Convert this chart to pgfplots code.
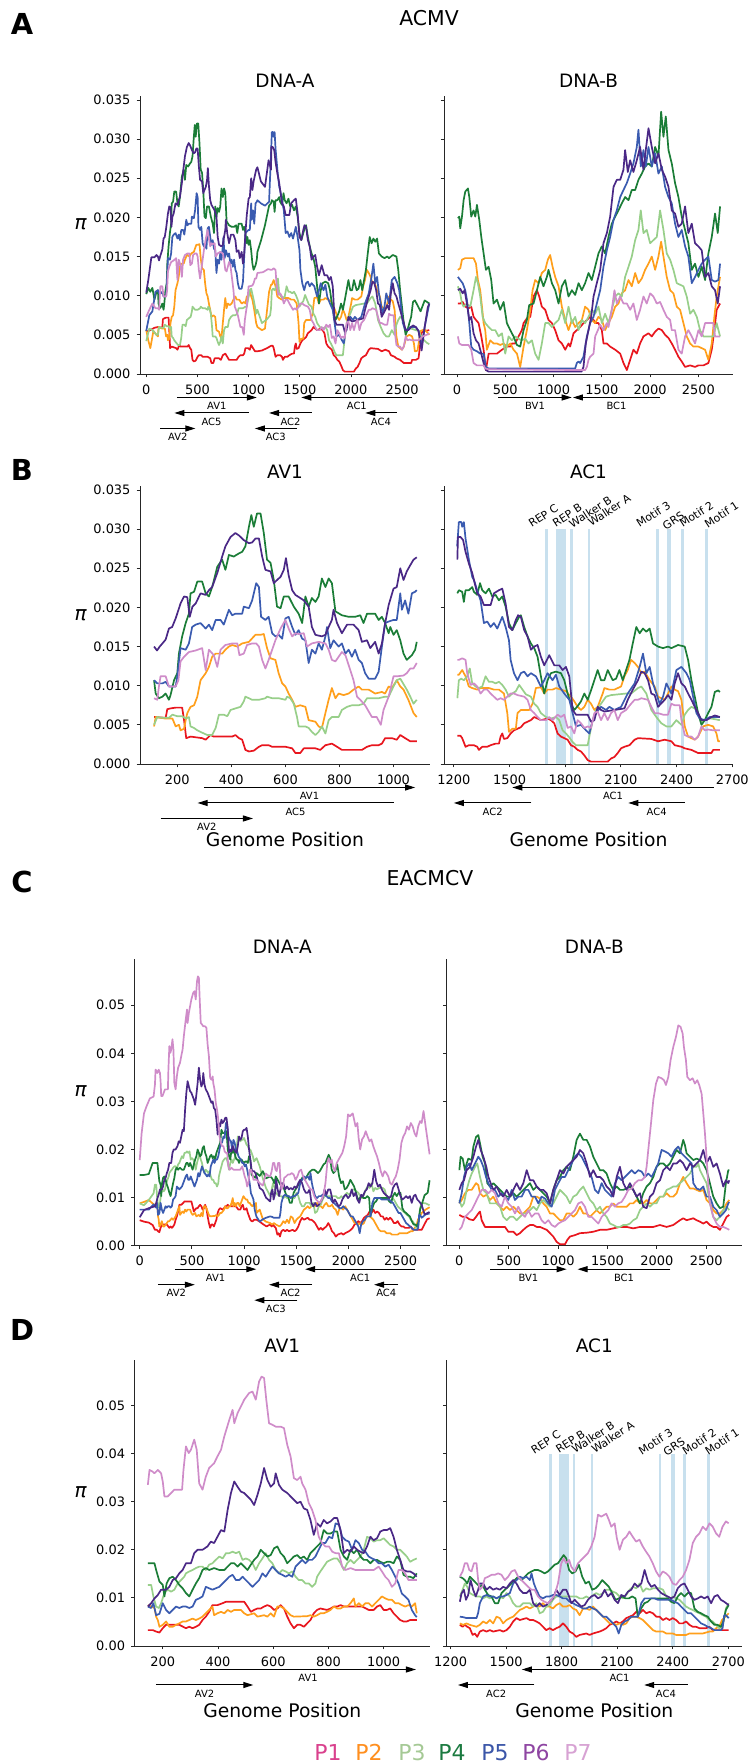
\documentclass[border=0pt]{standalone}
\usepackage{fontspec}
\setmainfont{DejaVu Sans}
\usepackage{pgfplots}
\pgfplotsset{compat=1.18}
\usepackage{pgfplotstable}
\usetikzlibrary{arrows.meta}

\definecolor{cPa}{HTML}{E8161E}
\definecolor{cPb}{HTML}{FF9F1C}
\definecolor{cPc}{HTML}{98CF8A}
\definecolor{cPd}{HTML}{1B7D37}
\definecolor{cPe}{HTML}{3A5BB0}
\definecolor{cPf}{HTML}{4A2886}
\definecolor{cPg}{HTML}{CF8CC9}
\definecolor{lPa}{HTML}{D9418D}
\definecolor{lPb}{HTML}{FF8F1F}
\definecolor{lPc}{HTML}{A5C995}
\definecolor{lPd}{HTML}{1B7A40}
\definecolor{lPe}{HTML}{3B56A8}
\definecolor{lPf}{HTML}{8E45A2}
\definecolor{lPg}{HTML}{D7A2D3}
\definecolor{motifc}{HTML}{C8E0EE}

\newcommand\tickfont{\fontsize{13}{15}\selectfont}
\newcommand\titlefont{\fontsize{18.5}{21}\selectfont}
\newcommand\bigtitlefont{\fontsize{20.5}{23}\selectfont}
\newcommand\letterfont{\bfseries\fontsize{29}{31}\selectfont}
\newcommand\xlabfont{\fontsize{18.8}{21}\selectfont}
\newcommand\genefont{\fontsize{10}{11}\selectfont}
\newcommand\motiffont{\fontsize{11}{12}\selectfont}
\newcommand\legfont{\fontsize{22}{24}\selectfont}
\newcommand\pifont{\itshape\fontsize{20}{22}\selectfont}

% ---------------- ACMV DNA-A ----------------
\pgfplotstableread[row sep=\\]{x y\\ 0 0.0054\\ 40 0.0056\\ 80 0.0059\\ 114 0.0060\\ 157 0.0059\\ 163 0.0070\\ 175 0.0071\\ 194 0.0072\\ 218 0.0072\\ 225 0.0056\\ 233 0.0033\\ 249 0.0035\\ 292 0.0033\\ 305 0.0031\\ 323 0.0037\\ 335 0.0035\\ 403 0.0035\\ 415 0.0037\\ 428 0.0033\\ 440 0.0031\\ 452 0.0018\\ 465 0.0016\\ 483 0.0017\\ 502 0.0022\\ 514 0.0024\\ 538 0.0024\\ 551 0.0022\\ 600 0.0022\\ 625 0.0020\\ 637 0.0014\\ 655 0.0014\\ 668 0.0020\\ 711 0.0020\\ 729 0.0018\\ 748 0.0024\\ 772 0.0026\\ 791 0.0022\\ 809 0.0018\\ 883 0.0018\\ 902 0.0022\\ 920 0.0024\\ 945 0.0024\\ 957 0.0026\\ 969 0.0033\\ 994 0.0033\\ 1012 0.0031\\ 1025 0.0037\\ 1043 0.0033\\ 1062 0.0029\\ 1086 0.0029\\ 1130 0.0030\\ 1180 0.0033\\ 1219 0.0036\\ 1236 0.0036\\ 1245 0.0033\\ 1263 0.0022\\ 1281 0.0024\\ 1308 0.0024\\ 1326 0.0022\\ 1335 0.0018\\ 1353 0.0022\\ 1380 0.0022\\ 1398 0.0024\\ 1425 0.0026\\ 1443 0.0026\\ 1452 0.0035\\ 1461 0.0039\\ 1470 0.0032\\ 1488 0.0033\\ 1506 0.0039\\ 1524 0.0043\\ 1543 0.0045\\ 1561 0.0047\\ 1579 0.0052\\ 1597 0.0054\\ 1615 0.0056\\ 1633 0.0060\\ 1651 0.0058\\ 1669 0.0056\\ 1705 0.0058\\ 1723 0.0056\\ 1741 0.0052\\ 1759 0.0039\\ 1777 0.0035\\ 1795 0.0033\\ 1813 0.0031\\ 1831 0.0024\\ 1849 0.0022\\ 1867 0.0018\\ 1885 0.0016\\ 1903 0.0011\\ 1921 0.0005\\ 1939 0.0003\\ 2029 0.0003\\ 2047 0.0007\\ 2065 0.0009\\ 2083 0.0014\\ 2101 0.0020\\ 2119 0.0022\\ 2146 0.0024\\ 2174 0.0031\\ 2192 0.0033\\ 2264 0.0032\\ 2300 0.0029\\ 2336 0.0031\\ 2372 0.0029\\ 2390 0.0024\\ 2426 0.0022\\ 2444 0.0020\\ 2480 0.0018\\ 2516 0.0014\\ 2588 0.0014\\ 2597 0.0018\\ 2633 0.0018\\ 2660 0.0020\\ 2690 0.0053\\ 2720 0.0055\\ 2765 0.0056\\}\AAa
\pgfplotstableread[row sep=\\]{x y\\ 0 0.0056\\ 20 0.0043\\ 40 0.0033\\ 70 0.0055\\ 100 0.0050\\ 114 0.0048\\ 120 0.0060\\ 138 0.0059\\ 157 0.0058\\ 182 0.0058\\ 194 0.0048\\ 206 0.0050\\ 212 0.0043\\ 225 0.0045\\ 231 0.0056\\ 237 0.0065\\ 249 0.0073\\ 262 0.0075\\ 274 0.0086\\ 286 0.0107\\ 305 0.0116\\ 317 0.0124\\ 329 0.0137\\ 342 0.0141\\ 366 0.0141\\ 378 0.0146\\ 391 0.0150\\ 403 0.0152\\ 422 0.0150\\ 440 0.0154\\ 465 0.0156\\ 489 0.0165\\ 508 0.0165\\ 520 0.0166\\ 532 0.0148\\ 545 0.0135\\ 563 0.0133\\ 575 0.0116\\ 588 0.0103\\ 600 0.0099\\ 612 0.0090\\ 625 0.0082\\ 637 0.0073\\ 655 0.0075\\ 674 0.0073\\ 686 0.0056\\ 711 0.0054\\ 723 0.0048\\ 735 0.0046\\ 748 0.0065\\ 760 0.0082\\ 772 0.0097\\ 785 0.0084\\ 797 0.0090\\ 815 0.0088\\ 834 0.0090\\ 852 0.0095\\ 871 0.0099\\ 883 0.0095\\ 908 0.0095\\ 932 0.0090\\ 957 0.0092\\ 969 0.0090\\ 982 0.0099\\ 994 0.0097\\ 1012 0.0107\\ 1025 0.0099\\ 1037 0.0095\\ 1055 0.0082\\ 1074 0.0065\\ 1086 0.0060\\ 1130 0.0056\\ 1160 0.0058\\ 1200 0.0105\\ 1219 0.0114\\ 1227 0.0114\\ 1245 0.0120\\ 1263 0.0112\\ 1281 0.0099\\ 1299 0.0097\\ 1326 0.0095\\ 1344 0.0097\\ 1362 0.0097\\ 1389 0.0097\\ 1416 0.0095\\ 1443 0.0095\\ 1470 0.0090\\ 1488 0.0065\\ 1497 0.0041\\ 1515 0.0045\\ 1534 0.0045\\ 1543 0.0065\\ 1561 0.0069\\ 1588 0.0069\\ 1606 0.0069\\ 1624 0.0077\\ 1642 0.0097\\ 1669 0.0098\\ 1687 0.0090\\ 1705 0.0095\\ 1732 0.0095\\ 1750 0.0097\\ 1777 0.0095\\ 1804 0.0093\\ 1831 0.0086\\ 1849 0.0080\\ 1867 0.0073\\ 1885 0.0069\\ 1903 0.0073\\ 1921 0.0082\\ 1939 0.0077\\ 1957 0.0069\\ 1975 0.0073\\ 2002 0.0090\\ 2011 0.0097\\ 2038 0.0095\\ 2065 0.0095\\ 2083 0.0097\\ 2101 0.0099\\ 2119 0.0112\\ 2137 0.0120\\ 2155 0.0133\\ 2174 0.0129\\ 2192 0.0124\\ 2210 0.0116\\ 2228 0.0118\\ 2255 0.0107\\ 2282 0.0099\\ 2300 0.0086\\ 2318 0.0084\\ 2336 0.0082\\ 2354 0.0090\\ 2372 0.0099\\ 2390 0.0095\\ 2408 0.0093\\ 2426 0.0082\\ 2444 0.0048\\ 2462 0.0035\\ 2480 0.0033\\ 2498 0.0031\\ 2516 0.0035\\ 2543 0.0048\\ 2570 0.0050\\ 2597 0.0048\\ 2615 0.0039\\ 2624 0.0029\\ 2633 0.0029\\ 2650 0.0030\\ 2680 0.0055\\ 2720 0.0057\\ 2765 0.0050\\}\AAb
\pgfplotstableread[row sep=\\]{x y\\ 0 0.0042\\ 30 0.0058\\ 60 0.0056\\ 100 0.0050\\ 114 0.0050\\ 126 0.0060\\ 145 0.0059\\ 169 0.0059\\ 182 0.0063\\ 200 0.0061\\ 218 0.0061\\ 231 0.0058\\ 243 0.0060\\ 249 0.0048\\ 262 0.0046\\ 274 0.0043\\ 292 0.0040\\ 311 0.0037\\ 329 0.0037\\ 342 0.0046\\ 354 0.0063\\ 372 0.0063\\ 385 0.0061\\ 397 0.0069\\ 415 0.0071\\ 434 0.0073\\ 446 0.0080\\ 452 0.0086\\ 465 0.0084\\ 477 0.0082\\ 502 0.0082\\ 526 0.0084\\ 532 0.0086\\ 551 0.0084\\ 575 0.0084\\ 600 0.0082\\ 606 0.0086\\ 618 0.0084\\ 631 0.0077\\ 643 0.0060\\ 649 0.0048\\ 674 0.0048\\ 686 0.0046\\ 698 0.0041\\ 711 0.0037\\ 723 0.0041\\ 735 0.0048\\ 748 0.0039\\ 760 0.0056\\ 772 0.0060\\ 797 0.0060\\ 809 0.0069\\ 828 0.0073\\ 846 0.0075\\ 871 0.0075\\ 889 0.0077\\ 902 0.0084\\ 945 0.0084\\ 969 0.0086\\ 982 0.0086\\ 1000 0.0099\\ 1012 0.0107\\ 1025 0.0109\\ 1037 0.0102\\ 1049 0.0095\\ 1062 0.0086\\ 1074 0.0077\\ 1086 0.0082\\ 1130 0.0065\\ 1180 0.0070\\ 1210 0.0075\\ 1219 0.0084\\ 1227 0.0107\\ 1240 0.0109\\ 1254 0.0107\\ 1272 0.0112\\ 1286 0.0122\\ 1299 0.0103\\ 1317 0.0099\\ 1335 0.0097\\ 1353 0.0099\\ 1371 0.0112\\ 1389 0.0105\\ 1407 0.0105\\ 1425 0.0103\\ 1443 0.0105\\ 1461 0.0101\\ 1479 0.0095\\ 1497 0.0086\\ 1515 0.0090\\ 1534 0.0093\\ 1552 0.0101\\ 1570 0.0095\\ 1588 0.0089\\ 1615 0.0086\\ 1633 0.0077\\ 1651 0.0073\\ 1669 0.0065\\ 1696 0.0060\\ 1723 0.0058\\ 1750 0.0060\\ 1768 0.0056\\ 1786 0.0043\\ 1804 0.0039\\ 1822 0.0034\\ 1840 0.0028\\ 1858 0.0024\\ 1921 0.0024\\ 1930 0.0035\\ 1948 0.0056\\ 1966 0.0069\\ 1993 0.0077\\ 2020 0.0086\\ 2047 0.0088\\ 2128 0.0090\\ 2155 0.0090\\ 2192 0.0097\\ 2210 0.0099\\ 2237 0.0090\\ 2264 0.0069\\ 2291 0.0060\\ 2318 0.0052\\ 2345 0.0048\\ 2372 0.0048\\ 2399 0.0056\\ 2426 0.0050\\ 2444 0.0063\\ 2462 0.0069\\ 2480 0.0073\\ 2498 0.0071\\ 2516 0.0065\\ 2534 0.0054\\ 2561 0.0058\\ 2588 0.0058\\ 2633 0.0056\\ 2660 0.0055\\ 2700 0.0045\\ 2740 0.0040\\ 2765 0.0038\\}\AAc
\pgfplotstableread[row sep=\\]{x y\\ 0 0.0102\\ 20 0.0110\\ 40 0.0105\\ 60 0.0110\\ 80 0.0095\\ 100 0.0105\\ 114 0.0107\\ 120 0.0090\\ 132 0.0084\\ 145 0.0086\\ 157 0.0090\\ 169 0.0082\\ 175 0.0088\\ 188 0.0107\\ 200 0.0116\\ 206 0.0141\\ 218 0.0163\\ 231 0.0180\\ 243 0.0192\\ 249 0.0218\\ 262 0.0220\\ 274 0.0233\\ 292 0.0233\\ 305 0.0218\\ 317 0.0214\\ 329 0.0226\\ 348 0.0252\\ 366 0.0261\\ 378 0.0248\\ 391 0.0267\\ 409 0.0265\\ 428 0.0269\\ 440 0.0271\\ 452 0.0278\\ 465 0.0303\\ 474 0.0318\\ 483 0.0303\\ 495 0.0320\\ 508 0.0320\\ 520 0.0295\\ 532 0.0261\\ 545 0.0257\\ 557 0.0235\\ 569 0.0201\\ 582 0.0199\\ 594 0.0214\\ 612 0.0214\\ 631 0.0201\\ 649 0.0192\\ 662 0.0180\\ 674 0.0214\\ 686 0.0201\\ 698 0.0212\\ 711 0.0207\\ 723 0.0214\\ 735 0.0237\\ 748 0.0226\\ 760 0.0237\\ 772 0.0231\\ 785 0.0195\\ 809 0.0190\\ 834 0.0188\\ 858 0.0188\\ 877 0.0190\\ 889 0.0180\\ 902 0.0192\\ 932 0.0192\\ 945 0.0184\\ 957 0.0188\\ 969 0.0180\\ 982 0.0167\\ 988 0.0175\\ 1000 0.0165\\ 1012 0.0171\\ 1025 0.0158\\ 1037 0.0141\\ 1049 0.0133\\ 1068 0.0139\\ 1080 0.0146\\ 1086 0.0156\\ 1120 0.0170\\ 1160 0.0190\\ 1200 0.0215\\ 1219 0.0218\\ 1227 0.0222\\ 1245 0.0220\\ 1254 0.0207\\ 1263 0.0222\\ 1281 0.0222\\ 1299 0.0226\\ 1308 0.0220\\ 1326 0.0216\\ 1341 0.0231\\ 1353 0.0222\\ 1371 0.0218\\ 1389 0.0224\\ 1407 0.0214\\ 1425 0.0216\\ 1443 0.0209\\ 1461 0.0214\\ 1479 0.0201\\ 1497 0.0180\\ 1515 0.0171\\ 1534 0.0180\\ 1552 0.0188\\ 1561 0.0190\\ 1579 0.0175\\ 1597 0.0163\\ 1615 0.0154\\ 1633 0.0148\\ 1651 0.0137\\ 1669 0.0112\\ 1687 0.0090\\ 1705 0.0107\\ 1723 0.0116\\ 1750 0.0118\\ 1777 0.0116\\ 1795 0.0107\\ 1813 0.0090\\ 1831 0.0077\\ 1849 0.0069\\ 1867 0.0074\\ 1885 0.0080\\ 1903 0.0090\\ 1921 0.0082\\ 1939 0.0094\\ 1957 0.0107\\ 1975 0.0120\\ 1993 0.0107\\ 2011 0.0107\\ 2029 0.0120\\ 2056 0.0107\\ 2074 0.0109\\ 2092 0.0120\\ 2110 0.0107\\ 2128 0.0120\\ 2146 0.0133\\ 2164 0.0154\\ 2183 0.0175\\ 2201 0.0167\\ 2219 0.0173\\ 2237 0.0169\\ 2255 0.0173\\ 2273 0.0154\\ 2300 0.0150\\ 2327 0.0148\\ 2354 0.0150\\ 2372 0.0148\\ 2390 0.0150\\ 2408 0.0152\\ 2444 0.0150\\ 2462 0.0133\\ 2480 0.0107\\ 2498 0.0086\\ 2516 0.0065\\ 2534 0.0050\\ 2552 0.0056\\ 2570 0.0065\\ 2588 0.0073\\ 2606 0.0092\\ 2624 0.0094\\ 2633 0.0092\\ 2680 0.0080\\ 2720 0.0094\\ 2765 0.0090\\}\AAd
\pgfplotstableread[row sep=\\]{x y\\ 0 0.0055\\ 30 0.0075\\ 60 0.0080\\ 90 0.0105\\ 114 0.0107\\ 126 0.0103\\ 145 0.0103\\ 157 0.0105\\ 169 0.0099\\ 194 0.0099\\ 200 0.0112\\ 212 0.0148\\ 231 0.0146\\ 243 0.0154\\ 255 0.0175\\ 268 0.0178\\ 286 0.0180\\ 305 0.0173\\ 317 0.0178\\ 329 0.0171\\ 342 0.0184\\ 360 0.0184\\ 372 0.0178\\ 391 0.0197\\ 403 0.0190\\ 415 0.0192\\ 440 0.0192\\ 446 0.0201\\ 465 0.0199\\ 477 0.0209\\ 492 0.0231\\ 502 0.0226\\ 510 0.0188\\ 526 0.0184\\ 538 0.0188\\ 551 0.0167\\ 563 0.0163\\ 575 0.0165\\ 588 0.0160\\ 600 0.0186\\ 612 0.0188\\ 625 0.0175\\ 637 0.0165\\ 649 0.0171\\ 662 0.0160\\ 674 0.0158\\ 686 0.0129\\ 698 0.0146\\ 711 0.0141\\ 723 0.0154\\ 735 0.0146\\ 748 0.0163\\ 754 0.0175\\ 766 0.0148\\ 778 0.0158\\ 797 0.0150\\ 809 0.0154\\ 822 0.0141\\ 834 0.0146\\ 846 0.0137\\ 858 0.0146\\ 871 0.0133\\ 883 0.0129\\ 895 0.0116\\ 908 0.0109\\ 932 0.0109\\ 945 0.0118\\ 957 0.0150\\ 969 0.0180\\ 982 0.0182\\ 1000 0.0184\\ 1012 0.0184\\ 1025 0.0218\\ 1031 0.0197\\ 1043 0.0209\\ 1055 0.0192\\ 1068 0.0218\\ 1080 0.0220\\ 1086 0.0222\\ 1120 0.0218\\ 1160 0.0215\\ 1200 0.0220\\ 1218 0.0278\\ 1227 0.0309\\ 1240 0.0309\\ 1245 0.0303\\ 1254 0.0309\\ 1263 0.0288\\ 1281 0.0261\\ 1299 0.0239\\ 1308 0.0235\\ 1326 0.0222\\ 1344 0.0209\\ 1362 0.0180\\ 1380 0.0182\\ 1398 0.0175\\ 1416 0.0180\\ 1434 0.0173\\ 1461 0.0188\\ 1479 0.0175\\ 1497 0.0158\\ 1506 0.0133\\ 1524 0.0116\\ 1543 0.0107\\ 1561 0.0116\\ 1579 0.0118\\ 1597 0.0112\\ 1615 0.0116\\ 1642 0.0112\\ 1669 0.0099\\ 1687 0.0107\\ 1705 0.0116\\ 1732 0.0107\\ 1750 0.0114\\ 1768 0.0099\\ 1795 0.0090\\ 1822 0.0082\\ 1840 0.0065\\ 1858 0.0048\\ 1885 0.0050\\ 1912 0.0043\\ 1930 0.0039\\ 1948 0.0056\\ 1966 0.0065\\ 1993 0.0073\\ 2020 0.0069\\ 2038 0.0073\\ 2065 0.0069\\ 2101 0.0073\\ 2137 0.0090\\ 2174 0.0103\\ 2201 0.0124\\ 2219 0.0141\\ 2237 0.0116\\ 2255 0.0124\\ 2273 0.0103\\ 2291 0.0090\\ 2309 0.0077\\ 2327 0.0086\\ 2345 0.0103\\ 2372 0.0090\\ 2399 0.0120\\ 2426 0.0124\\ 2453 0.0116\\ 2471 0.0107\\ 2489 0.0086\\ 2507 0.0065\\ 2525 0.0058\\ 2552 0.0056\\ 2579 0.0060\\ 2633 0.0060\\ 2660 0.0055\\ 2690 0.0035\\ 2720 0.0060\\ 2750 0.0080\\ 2765 0.0090\\}\AAe
\pgfplotstableread[row sep=\\]{x y\\ 0 0.0104\\ 20 0.0120\\ 50 0.0149\\ 80 0.0149\\ 100 0.0152\\ 114 0.0150\\ 125 0.0145\\ 135 0.0150\\ 145 0.0154\\ 157 0.0159\\ 169 0.0173\\ 181 0.0175\\ 194 0.0186\\ 212 0.0205\\ 225 0.0214\\ 237 0.0213\\ 246 0.0188\\ 256 0.0201\\ 268 0.0205\\ 286 0.0218\\ 305 0.0216\\ 317 0.0222\\ 329 0.0226\\ 348 0.0244\\ 366 0.0265\\ 378 0.0278\\ 397 0.0290\\ 415 0.0295\\ 428 0.0292\\ 446 0.0286\\ 465 0.0282\\ 477 0.0283\\ 489 0.0288\\ 502 0.0288\\ 514 0.0265\\ 526 0.0248\\ 545 0.0246\\ 557 0.0231\\ 569 0.0235\\ 582 0.0239\\ 594 0.0248\\ 602 0.0263\\ 612 0.0241\\ 625 0.0222\\ 637 0.0216\\ 655 0.0212\\ 668 0.0209\\ 686 0.0201\\ 698 0.0175\\ 711 0.0165\\ 735 0.0163\\ 748 0.0165\\ 760 0.0175\\ 772 0.0184\\ 778 0.0197\\ 791 0.0180\\ 809 0.0167\\ 828 0.0178\\ 852 0.0178\\ 871 0.0171\\ 883 0.0156\\ 902 0.0158\\ 914 0.0148\\ 932 0.0156\\ 945 0.0141\\ 957 0.0154\\ 969 0.0180\\ 982 0.0203\\ 1000 0.0224\\ 1012 0.0226\\ 1025 0.0250\\ 1037 0.0235\\ 1049 0.0246\\ 1062 0.0254\\ 1074 0.0261\\ 1086 0.0264\\ 1120 0.0246\\ 1160 0.0239\\ 1195 0.0273\\ 1219 0.0261\\ 1222 0.0290\\ 1236 0.0290\\ 1250 0.0286\\ 1263 0.0271\\ 1281 0.0256\\ 1299 0.0244\\ 1326 0.0218\\ 1344 0.0214\\ 1362 0.0203\\ 1398 0.0203\\ 1416 0.0218\\ 1443 0.0222\\ 1461 0.0224\\ 1479 0.0205\\ 1497 0.0175\\ 1515 0.0171\\ 1534 0.0184\\ 1546 0.0190\\ 1561 0.0188\\ 1579 0.0171\\ 1597 0.0163\\ 1615 0.0146\\ 1633 0.0150\\ 1651 0.0152\\ 1669 0.0137\\ 1687 0.0126\\ 1714 0.0139\\ 1741 0.0126\\ 1768 0.0126\\ 1786 0.0120\\ 1804 0.0124\\ 1822 0.0112\\ 1840 0.0069\\ 1858 0.0063\\ 1921 0.0063\\ 1939 0.0054\\ 1957 0.0056\\ 1975 0.0073\\ 1993 0.0069\\ 2011 0.0067\\ 2065 0.0069\\ 2119 0.0071\\ 2137 0.0082\\ 2164 0.0095\\ 2192 0.0107\\ 2210 0.0118\\ 2228 0.0116\\ 2246 0.0107\\ 2264 0.0090\\ 2282 0.0088\\ 2300 0.0073\\ 2336 0.0082\\ 2354 0.0088\\ 2372 0.0082\\ 2390 0.0103\\ 2408 0.0116\\ 2426 0.0103\\ 2444 0.0099\\ 2462 0.0090\\ 2480 0.0082\\ 2498 0.0073\\ 2516 0.0065\\ 2534 0.0056\\ 2561 0.0056\\ 2588 0.0060\\ 2606 0.0062\\ 2633 0.0060\\ 2660 0.0055\\ 2690 0.0030\\ 2720 0.0060\\ 2750 0.0085\\ 2765 0.0090\\}\AAf
\pgfplotstableread[row sep=\\]{x y\\ 0 0.0073\\ 30 0.0082\\ 60 0.0090\\ 90 0.0084\\ 114 0.0084\\ 126 0.0082\\ 132 0.0099\\ 138 0.0112\\ 157 0.0112\\ 169 0.0099\\ 194 0.0099\\ 204 0.0107\\ 212 0.0131\\ 225 0.0137\\ 243 0.0143\\ 268 0.0145\\ 292 0.0148\\ 305 0.0120\\ 317 0.0146\\ 335 0.0139\\ 348 0.0124\\ 360 0.0146\\ 378 0.0152\\ 403 0.0154\\ 422 0.0154\\ 430 0.0139\\ 446 0.0141\\ 458 0.0152\\ 477 0.0154\\ 492 0.0154\\ 502 0.0150\\ 514 0.0133\\ 526 0.0122\\ 538 0.0133\\ 551 0.0146\\ 563 0.0158\\ 582 0.0173\\ 600 0.0184\\ 612 0.0173\\ 625 0.0163\\ 637 0.0167\\ 649 0.0166\\ 668 0.0167\\ 680 0.0150\\ 698 0.0154\\ 723 0.0156\\ 748 0.0154\\ 760 0.0146\\ 772 0.0133\\ 785 0.0131\\ 797 0.0137\\ 809 0.0143\\ 822 0.0139\\ 840 0.0120\\ 852 0.0107\\ 865 0.0086\\ 877 0.0082\\ 895 0.0075\\ 920 0.0060\\ 938 0.0060\\ 953 0.0050\\ 963 0.0069\\ 982 0.0086\\ 1000 0.0112\\ 1012 0.0112\\ 1037 0.0113\\ 1049 0.0116\\ 1062 0.0122\\ 1074 0.0122\\ 1086 0.0129\\ 1140 0.0130\\ 1190 0.0134\\ 1219 0.0133\\ 1227 0.0133\\ 1245 0.0135\\ 1263 0.0133\\ 1272 0.0116\\ 1290 0.0101\\ 1308 0.0103\\ 1326 0.0099\\ 1344 0.0090\\ 1362 0.0095\\ 1380 0.0095\\ 1398 0.0090\\ 1416 0.0086\\ 1434 0.0082\\ 1452 0.0084\\ 1470 0.0082\\ 1488 0.0086\\ 1506 0.0090\\ 1524 0.0090\\ 1543 0.0088\\ 1579 0.0086\\ 1597 0.0082\\ 1615 0.0069\\ 1633 0.0065\\ 1651 0.0060\\ 1669 0.0056\\ 1696 0.0056\\ 1714 0.0060\\ 1732 0.0056\\ 1759 0.0063\\ 1777 0.0060\\ 1795 0.0063\\ 1813 0.0046\\ 1831 0.0048\\ 1849 0.0039\\ 1867 0.0056\\ 1885 0.0052\\ 1903 0.0046\\ 1921 0.0048\\ 1939 0.0046\\ 1957 0.0065\\ 1975 0.0067\\ 1993 0.0056\\ 2011 0.0065\\ 2029 0.0056\\ 2047 0.0065\\ 2065 0.0069\\ 2083 0.0056\\ 2101 0.0065\\ 2128 0.0069\\ 2155 0.0077\\ 2174 0.0082\\ 2192 0.0082\\ 2210 0.0084\\ 2246 0.0082\\ 2264 0.0073\\ 2282 0.0065\\ 2300 0.0065\\ 2327 0.0063\\ 2354 0.0063\\ 2372 0.0077\\ 2390 0.0075\\ 2417 0.0075\\ 2426 0.0056\\ 2444 0.0037\\ 2462 0.0035\\ 2480 0.0035\\ 2498 0.0031\\ 2516 0.0035\\ 2534 0.0048\\ 2552 0.0043\\ 2570 0.0044\\ 2597 0.0043\\ 2633 0.0043\\ 2660 0.0043\\ 2700 0.0048\\ 2740 0.0050\\ 2765 0.0052\\}\AAg

% ---------------- ACMV DNA-B ----------------
\pgfplotstableread[row sep=\\]{x y\\ 10 0.0090\\ 34 0.0090\\ 59 0.0092\\ 86 0.0086\\ 121 0.0084\\ 148 0.0086\\ 172 0.0073\\ 197 0.0069\\ 224 0.0065\\ 252 0.0048\\ 276 0.0031\\ 300 0.0005\\ 328 0.0026\\ 414 0.0026\\ 466 0.0031\\ 517 0.0035\\ 552 0.0035\\ 569 0.0039\\ 603 0.0039\\ 638 0.0048\\ 672 0.0056\\ 690 0.0065\\ 724 0.0071\\ 759 0.0073\\ 793 0.0099\\ 828 0.0107\\ 852 0.0099\\ 879 0.0086\\ 914 0.0082\\ 948 0.0069\\ 983 0.0065\\ 1017 0.0056\\ 1052 0.0043\\ 1086 0.0039\\ 1121 0.0031\\ 1155 0.0039\\ 1172 0.0035\\ 1207 0.0052\\ 1241 0.0056\\ 1276 0.0060\\ 1310 0.0065\\ 1345 0.0069\\ 1379 0.0073\\ 1414 0.0069\\ 1431 0.0065\\ 1465 0.0065\\ 1500 0.0056\\ 1517 0.0039\\ 1552 0.0039\\ 1586 0.0035\\ 1638 0.0031\\ 1690 0.0026\\ 1724 0.0014\\ 1759 0.0005\\ 1793 0.0018\\ 1827 0.0031\\ 1862 0.0026\\ 1896 0.0039\\ 1931 0.0048\\ 1983 0.0052\\ 2017 0.0048\\ 2052 0.0054\\ 2086 0.0058\\ 2121 0.0056\\ 2155 0.0050\\ 2190 0.0046\\ 2224 0.0039\\ 2258 0.0031\\ 2293 0.0022\\ 2327 0.0016\\ 2362 0.0009\\ 2414 0.0011\\ 2465 0.0009\\ 2500 0.0011\\ 2552 0.0011\\ 2603 0.0014\\ 2638 0.0031\\ 2665 0.0056\\ 2689 0.0082\\ 2724 0.0090\\}\ABa
\pgfplotstableread[row sep=\\]{x y\\ 10 0.0133\\ 34 0.0135\\ 52 0.0146\\ 86 0.0148\\ 172 0.0148\\ 197 0.0141\\ 217 0.0120\\ 241 0.0107\\ 259 0.0086\\ 276 0.0065\\ 293 0.0056\\ 310 0.0031\\ 345 0.0043\\ 379 0.0039\\ 414 0.0039\\ 448 0.0037\\ 483 0.0039\\ 517 0.0035\\ 552 0.0039\\ 586 0.0031\\ 621 0.0026\\ 655 0.0009\\ 690 0.0035\\ 724 0.0056\\ 759 0.0082\\ 783 0.0107\\ 810 0.0120\\ 845 0.0116\\ 879 0.0129\\ 914 0.0133\\ 941 0.0146\\ 965 0.0152\\ 990 0.0137\\ 1017 0.0124\\ 1052 0.0112\\ 1086 0.0086\\ 1121 0.0069\\ 1155 0.0056\\ 1190 0.0069\\ 1224 0.0060\\ 1259 0.0065\\ 1293 0.0069\\ 1327 0.0086\\ 1362 0.0082\\ 1396 0.0069\\ 1431 0.0065\\ 1465 0.0073\\ 1500 0.0069\\ 1534 0.0056\\ 1569 0.0065\\ 1603 0.0073\\ 1638 0.0086\\ 1672 0.0090\\ 1707 0.0103\\ 1741 0.0107\\ 1776 0.0120\\ 1810 0.0112\\ 1845 0.0129\\ 1879 0.0116\\ 1914 0.0122\\ 1948 0.0133\\ 1983 0.0141\\ 2017 0.0150\\ 2052 0.0133\\ 2086 0.0150\\ 2114 0.0169\\ 2138 0.0150\\ 2172 0.0124\\ 2207 0.0107\\ 2241 0.0103\\ 2276 0.0086\\ 2310 0.0082\\ 2345 0.0065\\ 2379 0.0048\\ 2414 0.0039\\ 2448 0.0035\\ 2500 0.0035\\ 2534 0.0033\\ 2569 0.0031\\ 2603 0.0018\\ 2638 0.0039\\ 2665 0.0073\\ 2689 0.0099\\ 2724 0.0124\\}\ABb
\pgfplotstableread[row sep=\\]{x y\\ 10 0.0112\\ 34 0.0103\\ 52 0.0090\\ 69 0.0086\\ 103 0.0090\\ 138 0.0086\\ 172 0.0107\\ 197 0.0124\\ 217 0.0116\\ 241 0.0099\\ 266 0.0073\\ 293 0.0065\\ 328 0.0060\\ 362 0.0056\\ 397 0.0056\\ 431 0.0048\\ 466 0.0052\\ 500 0.0026\\ 534 0.0048\\ 569 0.0043\\ 603 0.0048\\ 638 0.0045\\ 672 0.0043\\ 707 0.0045\\ 741 0.0039\\ 776 0.0043\\ 810 0.0026\\ 845 0.0018\\ 879 0.0039\\ 914 0.0065\\ 948 0.0065\\ 983 0.0060\\ 1017 0.0065\\ 1052 0.0069\\ 1086 0.0082\\ 1121 0.0065\\ 1155 0.0086\\ 1190 0.0065\\ 1224 0.0073\\ 1259 0.0056\\ 1293 0.0069\\ 1327 0.0065\\ 1362 0.0073\\ 1396 0.0082\\ 1431 0.0077\\ 1465 0.0086\\ 1500 0.0065\\ 1534 0.0077\\ 1569 0.0065\\ 1603 0.0082\\ 1638 0.0099\\ 1672 0.0103\\ 1707 0.0099\\ 1741 0.0124\\ 1776 0.0137\\ 1810 0.0150\\ 1845 0.0171\\ 1879 0.0184\\ 1903 0.0209\\ 1931 0.0180\\ 1965 0.0184\\ 2000 0.0167\\ 2034 0.0171\\ 2069 0.0175\\ 2103 0.0209\\ 2138 0.0184\\ 2172 0.0154\\ 2207 0.0146\\ 2241 0.0133\\ 2276 0.0116\\ 2345 0.0112\\ 2379 0.0099\\ 2414 0.0077\\ 2448 0.0082\\ 2483 0.0073\\ 2517 0.0056\\ 2552 0.0048\\ 2655 0.0048\\ 2689 0.0065\\ 2724 0.0048\\}\ABc
\pgfplotstableread[row sep=\\]{x y\\ 10 0.0199\\ 24 0.0201\\ 34 0.0186\\ 52 0.0201\\ 69 0.0222\\ 86 0.0233\\ 114 0.0237\\ 128 0.0226\\ 148 0.0201\\ 172 0.0209\\ 190 0.0201\\ 207 0.0216\\ 231 0.0197\\ 252 0.0175\\ 276 0.0154\\ 300 0.0133\\ 328 0.0137\\ 355 0.0120\\ 379 0.0090\\ 414 0.0095\\ 448 0.0082\\ 483 0.0092\\ 517 0.0065\\ 552 0.0056\\ 586 0.0048\\ 621 0.0037\\ 655 0.0035\\ 690 0.0056\\ 724 0.0069\\ 748 0.0088\\ 793 0.0090\\ 828 0.0107\\ 862 0.0124\\ 896 0.0112\\ 931 0.0124\\ 948 0.0133\\ 983 0.0116\\ 1017 0.0107\\ 1052 0.0090\\ 1086 0.0112\\ 1121 0.0120\\ 1155 0.0099\\ 1190 0.0107\\ 1224 0.0101\\ 1259 0.0116\\ 1293 0.0107\\ 1327 0.0116\\ 1362 0.0129\\ 1396 0.0120\\ 1431 0.0137\\ 1465 0.0154\\ 1500 0.0163\\ 1534 0.0154\\ 1569 0.0175\\ 1603 0.0192\\ 1638 0.0201\\ 1672 0.0209\\ 1707 0.0218\\ 1741 0.0226\\ 1776 0.0222\\ 1810 0.0235\\ 1845 0.0235\\ 1879 0.0248\\ 1914 0.0256\\ 1948 0.0265\\ 1983 0.0269\\ 2017 0.0265\\ 2052 0.0290\\ 2086 0.0278\\ 2114 0.0335\\ 2138 0.0303\\ 2162 0.0329\\ 2190 0.0286\\ 2224 0.0269\\ 2258 0.0244\\ 2293 0.0226\\ 2327 0.0201\\ 2362 0.0184\\ 2396 0.0167\\ 2431 0.0133\\ 2465 0.0141\\ 2500 0.0124\\ 2534 0.0137\\ 2569 0.0120\\ 2603 0.0154\\ 2638 0.0175\\ 2672 0.0205\\ 2700 0.0180\\ 2724 0.0214\\}\ABd
\pgfplotstableread[row sep=\\]{x y\\ 10 0.0124\\ 34 0.0120\\ 59 0.0116\\ 86 0.0107\\ 103 0.0095\\ 128 0.0065\\ 148 0.0035\\ 172 0.0031\\ 207 0.0029\\ 241 0.0026\\ 276 0.0026\\ 300 0.0009\\ 328 0.0007\\ 1224 0.0007\\ 1241 0.0014\\ 1259 0.0016\\ 1276 0.0014\\ 1310 0.0022\\ 1345 0.0048\\ 1379 0.0065\\ 1414 0.0073\\ 1448 0.0090\\ 1483 0.0107\\ 1517 0.0137\\ 1552 0.0158\\ 1586 0.0175\\ 1621 0.0197\\ 1655 0.0209\\ 1690 0.0226\\ 1724 0.0235\\ 1759 0.0244\\ 1793 0.0256\\ 1827 0.0269\\ 1862 0.0290\\ 1879 0.0312\\ 1903 0.0265\\ 1931 0.0286\\ 1955 0.0265\\ 1983 0.0290\\ 2017 0.0265\\ 2052 0.0282\\ 2086 0.0256\\ 2121 0.0265\\ 2155 0.0239\\ 2190 0.0226\\ 2224 0.0218\\ 2258 0.0192\\ 2293 0.0175\\ 2327 0.0184\\ 2362 0.0163\\ 2396 0.0150\\ 2431 0.0116\\ 2465 0.0124\\ 2500 0.0133\\ 2534 0.0141\\ 2569 0.0146\\ 2603 0.0150\\ 2638 0.0120\\ 2672 0.0118\\ 2707 0.0120\\ 2724 0.0141\\}\ABe
\pgfplotstableread[row sep=\\]{x y\\ 10 0.0107\\ 34 0.0109\\ 59 0.0103\\ 79 0.0107\\ 103 0.0090\\ 128 0.0069\\ 148 0.0073\\ 172 0.0052\\ 197 0.0043\\ 224 0.0039\\ 252 0.0026\\ 276 0.0014\\ 300 0.0005\\ 328 0.0003\\ 1290 0.0003\\ 1310 0.0009\\ 1334 0.0039\\ 1362 0.0056\\ 1390 0.0073\\ 1414 0.0099\\ 1448 0.0116\\ 1483 0.0133\\ 1517 0.0167\\ 1552 0.0180\\ 1586 0.0201\\ 1621 0.0239\\ 1655 0.0248\\ 1690 0.0248\\ 1724 0.0261\\ 1741 0.0286\\ 1769 0.0258\\ 1793 0.0273\\ 1827 0.0258\\ 1862 0.0273\\ 1896 0.0290\\ 1931 0.0261\\ 1955 0.0286\\ 1983 0.0314\\ 2017 0.0290\\ 2052 0.0269\\ 2086 0.0282\\ 2121 0.0261\\ 2155 0.0252\\ 2190 0.0239\\ 2224 0.0209\\ 2258 0.0205\\ 2293 0.0188\\ 2327 0.0192\\ 2362 0.0214\\ 2396 0.0180\\ 2431 0.0192\\ 2465 0.0167\\ 2500 0.0163\\ 2534 0.0158\\ 2569 0.0124\\ 2603 0.0129\\ 2638 0.0112\\ 2672 0.0107\\ 2700 0.0090\\ 2724 0.0112\\}\ABf
\pgfplotstableread[row sep=\\]{x y\\ 10 0.0048\\ 24 0.0039\\ 52 0.0037\\ 121 0.0037\\ 148 0.0031\\ 172 0.0014\\ 207 0.0011\\ 276 0.0011\\ 293 0.0007\\ 328 0.0006\\ 1327 0.0005\\ 1345 0.0009\\ 1362 0.0018\\ 1379 0.0022\\ 1414 0.0026\\ 1431 0.0048\\ 1459 0.0056\\ 1483 0.0063\\ 1517 0.0056\\ 1552 0.0065\\ 1569 0.0060\\ 1603 0.0082\\ 1631 0.0107\\ 1655 0.0090\\ 1690 0.0099\\ 1724 0.0090\\ 1759 0.0090\\ 1793 0.0082\\ 1827 0.0090\\ 1862 0.0069\\ 1896 0.0082\\ 1931 0.0099\\ 1965 0.0090\\ 2000 0.0103\\ 2034 0.0099\\ 2069 0.0090\\ 2103 0.0092\\ 2138 0.0082\\ 2172 0.0073\\ 2207 0.0069\\ 2224 0.0056\\ 2258 0.0056\\ 2293 0.0031\\ 2327 0.0026\\ 2362 0.0048\\ 2396 0.0056\\ 2431 0.0048\\ 2465 0.0039\\ 2500 0.0056\\ 2534 0.0048\\ 2569 0.0065\\ 2655 0.0065\\ 2672 0.0048\\ 2724 0.0048\\}\ABg

% ---------------- EACMCV DNA-A ----------------
\pgfplotstableread[row sep=\\]{x y\\ 0 0.0053\\ 41 0.0050\\ 87 0.0048\\ 124 0.0043\\ 146 0.0033\\ 164 0.0033\\ 176 0.0030\\ 188 0.0028\\ 200 0.0037\\ 212 0.0044\\ 260 0.0044\\ 284 0.0037\\ 296 0.0040\\ 308 0.0037\\ 320 0.0040\\ 332 0.0044\\ 344 0.0054\\ 356 0.0061\\ 368 0.0071\\ 380 0.0085\\ 398 0.0085\\ 417 0.0089\\ 429 0.0092\\ 495 0.0092\\ 507 0.0082\\ 519 0.0071\\ 531 0.0075\\ 543 0.0078\\ 555 0.0078\\ 567 0.0082\\ 579 0.0085\\ 591 0.0082\\ 603 0.0075\\ 615 0.0078\\ 627 0.0085\\ 639 0.0078\\ 651 0.0061\\ 663 0.0047\\ 675 0.0037\\ 687 0.0044\\ 699 0.0044\\ 711 0.0040\\ 723 0.0047\\ 735 0.0054\\ 747 0.0068\\ 759 0.0075\\ 771 0.0078\\ 795 0.0075\\ 808 0.0078\\ 820 0.0082\\ 832 0.0082\\ 844 0.0085\\ 856 0.0082\\ 922 0.0082\\ 946 0.0075\\ 964 0.0075\\ 976 0.0082\\ 988 0.0085\\ 1000 0.0075\\ 1012 0.0075\\ 1024 0.0078\\ 1036 0.0068\\ 1048 0.0061\\ 1060 0.0054\\ 1072 0.0051\\ 1084 0.0051\\ 1096 0.0054\\ 1120 0.0054\\ 1150 0.0050\\ 1180 0.0045\\ 1215 0.0040\\ 1250 0.0044\\ 1265 0.0040\\ 1277 0.0044\\ 1290 0.0040\\ 1304 0.0037\\ 1319 0.0023\\ 1331 0.0026\\ 1344 0.0019\\ 1358 0.0030\\ 1376 0.0033\\ 1394 0.0030\\ 1412 0.0033\\ 1430 0.0030\\ 1466 0.0033\\ 1484 0.0030\\ 1502 0.0033\\ 1520 0.0040\\ 1538 0.0051\\ 1556 0.0058\\ 1574 0.0054\\ 1610 0.0058\\ 1628 0.0054\\ 1646 0.0054\\ 1663 0.0051\\ 1681 0.0047\\ 1699 0.0040\\ 1717 0.0033\\ 1735 0.0037\\ 1753 0.0033\\ 1771 0.0037\\ 1789 0.0040\\ 1807 0.0047\\ 1825 0.0040\\ 1843 0.0030\\ 1861 0.0026\\ 1879 0.0019\\ 1897 0.0023\\ 1933 0.0026\\ 1951 0.0023\\ 1969 0.0026\\ 2005 0.0030\\ 2023 0.0033\\ 2041 0.0037\\ 2059 0.0044\\ 2077 0.0047\\ 2095 0.0051\\ 2113 0.0047\\ 2131 0.0051\\ 2149 0.0058\\ 2167 0.0061\\ 2185 0.0064\\ 2203 0.0071\\ 2221 0.0068\\ 2239 0.0075\\ 2257 0.0068\\ 2275 0.0071\\ 2293 0.0068\\ 2311 0.0061\\ 2329 0.0061\\ 2347 0.0054\\ 2365 0.0058\\ 2382 0.0054\\ 2400 0.0058\\ 2418 0.0054\\ 2436 0.0047\\ 2454 0.0047\\ 2472 0.0051\\ 2490 0.0044\\ 2508 0.0040\\ 2526 0.0040\\ 2544 0.0037\\ 2580 0.0037\\ 2598 0.0040\\ 2616 0.0033\\ 2702 0.0033\\ 2730 0.0045\\ 2755 0.0055\\ 2778 0.0057\\}\EAa
\pgfplotstableread[row sep=\\]{x y\\ 0 0.0088\\ 41 0.0091\\ 87 0.0095\\ 133 0.0086\\ 146 0.0085\\ 158 0.0082\\ 170 0.0079\\ 176 0.0061\\ 182 0.0054\\ 188 0.0040\\ 200 0.0044\\ 212 0.0051\\ 224 0.0040\\ 236 0.0040\\ 248 0.0044\\ 260 0.0047\\ 272 0.0051\\ 284 0.0051\\ 296 0.0054\\ 308 0.0057\\ 320 0.0054\\ 332 0.0057\\ 344 0.0061\\ 356 0.0068\\ 368 0.0075\\ 380 0.0082\\ 386 0.0064\\ 398 0.0068\\ 411 0.0071\\ 423 0.0068\\ 435 0.0075\\ 447 0.0071\\ 459 0.0075\\ 483 0.0075\\ 495 0.0068\\ 507 0.0064\\ 531 0.0068\\ 543 0.0061\\ 567 0.0064\\ 579 0.0061\\ 591 0.0068\\ 603 0.0061\\ 615 0.0082\\ 627 0.0082\\ 639 0.0078\\ 651 0.0071\\ 663 0.0064\\ 675 0.0061\\ 723 0.0062\\ 735 0.0064\\ 747 0.0061\\ 759 0.0064\\ 771 0.0068\\ 783 0.0068\\ 795 0.0071\\ 808 0.0075\\ 820 0.0082\\ 832 0.0078\\ 844 0.0078\\ 856 0.0082\\ 868 0.0082\\ 880 0.0089\\ 892 0.0099\\ 898 0.0082\\ 910 0.0089\\ 922 0.0082\\ 934 0.0089\\ 946 0.0089\\ 958 0.0082\\ 970 0.0089\\ 982 0.0096\\ 994 0.0103\\ 1006 0.0099\\ 1018 0.0096\\ 1030 0.0096\\ 1042 0.0089\\ 1054 0.0089\\ 1066 0.0085\\ 1078 0.0082\\ 1090 0.0085\\ 1102 0.0082\\ 1114 0.0089\\ 1120 0.0068\\ 1150 0.0075\\ 1180 0.0055\\ 1210 0.0050\\ 1250 0.0047\\ 1268 0.0044\\ 1286 0.0047\\ 1304 0.0044\\ 1340 0.0040\\ 1358 0.0044\\ 1376 0.0051\\ 1394 0.0047\\ 1412 0.0054\\ 1430 0.0047\\ 1448 0.0061\\ 1466 0.0058\\ 1484 0.0047\\ 1502 0.0054\\ 1520 0.0058\\ 1538 0.0061\\ 1556 0.0068\\ 1574 0.0075\\ 1592 0.0078\\ 1610 0.0082\\ 1628 0.0078\\ 1646 0.0082\\ 1663 0.0085\\ 1681 0.0082\\ 1699 0.0089\\ 1717 0.0082\\ 1735 0.0082\\ 1753 0.0078\\ 1771 0.0085\\ 1789 0.0089\\ 1807 0.0082\\ 1825 0.0082\\ 1843 0.0085\\ 1861 0.0078\\ 1879 0.0075\\ 1897 0.0064\\ 1915 0.0078\\ 1933 0.0078\\ 1951 0.0075\\ 1969 0.0082\\ 1987 0.0075\\ 2005 0.0068\\ 2023 0.0061\\ 2041 0.0054\\ 2059 0.0047\\ 2077 0.0047\\ 2095 0.0044\\ 2113 0.0047\\ 2131 0.0044\\ 2149 0.0047\\ 2167 0.0058\\ 2185 0.0061\\ 2203 0.0061\\ 2221 0.0058\\ 2239 0.0054\\ 2257 0.0047\\ 2275 0.0040\\ 2293 0.0033\\ 2311 0.0030\\ 2347 0.0030\\ 2365 0.0026\\ 2400 0.0026\\ 2418 0.0023\\ 2472 0.0023\\ 2490 0.0026\\ 2562 0.0026\\ 2598 0.0030\\ 2616 0.0030\\ 2634 0.0037\\ 2651 0.0040\\ 2666 0.0054\\ 2702 0.0068\\ 2740 0.0075\\ 2778 0.0080\\}\EAb
\pgfplotstableread[row sep=\\]{x y\\ 0 0.0088\\ 41 0.0084\\ 87 0.0095\\ 133 0.0109\\ 146 0.0127\\ 158 0.0127\\ 166 0.0103\\ 176 0.0082\\ 186 0.0079\\ 194 0.0089\\ 206 0.0110\\ 218 0.0117\\ 230 0.0113\\ 242 0.0117\\ 254 0.0130\\ 266 0.0137\\ 278 0.0144\\ 284 0.0151\\ 296 0.0155\\ 308 0.0158\\ 320 0.0162\\ 332 0.0165\\ 344 0.0165\\ 356 0.0158\\ 368 0.0169\\ 380 0.0172\\ 392 0.0179\\ 405 0.0186\\ 417 0.0182\\ 429 0.0193\\ 441 0.0193\\ 453 0.0196\\ 465 0.0193\\ 477 0.0196\\ 489 0.0179\\ 501 0.0182\\ 513 0.0179\\ 525 0.0172\\ 537 0.0158\\ 549 0.0172\\ 561 0.0182\\ 573 0.0193\\ 585 0.0179\\ 597 0.0172\\ 609 0.0158\\ 621 0.0151\\ 633 0.0158\\ 645 0.0155\\ 657 0.0151\\ 669 0.0155\\ 681 0.0144\\ 693 0.0137\\ 705 0.0137\\ 717 0.0130\\ 729 0.0130\\ 741 0.0123\\ 753 0.0130\\ 759 0.0144\\ 771 0.0155\\ 783 0.0165\\ 795 0.0175\\ 808 0.0179\\ 820 0.0182\\ 832 0.0182\\ 844 0.0172\\ 856 0.0158\\ 868 0.0172\\ 880 0.0179\\ 892 0.0172\\ 904 0.0179\\ 916 0.0186\\ 928 0.0200\\ 940 0.0227\\ 952 0.0224\\ 964 0.0217\\ 976 0.0220\\ 988 0.0220\\ 1000 0.0224\\ 1012 0.0217\\ 1024 0.0210\\ 1036 0.0207\\ 1048 0.0200\\ 1060 0.0200\\ 1072 0.0193\\ 1084 0.0186\\ 1096 0.0175\\ 1108 0.0179\\ 1120 0.0182\\ 1150 0.0165\\ 1180 0.0140\\ 1210 0.0120\\ 1235 0.0110\\ 1250 0.0103\\ 1265 0.0117\\ 1277 0.0130\\ 1290 0.0123\\ 1304 0.0110\\ 1322 0.0106\\ 1340 0.0103\\ 1358 0.0103\\ 1376 0.0099\\ 1394 0.0103\\ 1412 0.0099\\ 1430 0.0103\\ 1448 0.0099\\ 1466 0.0103\\ 1484 0.0099\\ 1502 0.0110\\ 1520 0.0103\\ 1538 0.0089\\ 1556 0.0082\\ 1574 0.0082\\ 1592 0.0089\\ 1628 0.0089\\ 1646 0.0082\\ 1663 0.0089\\ 1681 0.0068\\ 1699 0.0071\\ 1717 0.0082\\ 1735 0.0085\\ 1753 0.0096\\ 1771 0.0103\\ 1879 0.0103\\ 1897 0.0099\\ 1915 0.0099\\ 1933 0.0103\\ 1951 0.0099\\ 1969 0.0106\\ 1987 0.0110\\ 2005 0.0106\\ 2023 0.0110\\ 2041 0.0117\\ 2059 0.0117\\ 2077 0.0113\\ 2095 0.0110\\ 2113 0.0103\\ 2131 0.0099\\ 2149 0.0106\\ 2167 0.0117\\ 2185 0.0123\\ 2203 0.0120\\ 2221 0.0130\\ 2239 0.0113\\ 2257 0.0120\\ 2275 0.0117\\ 2293 0.0120\\ 2329 0.0120\\ 2347 0.0117\\ 2365 0.0103\\ 2382 0.0096\\ 2400 0.0103\\ 2418 0.0099\\ 2436 0.0096\\ 2454 0.0089\\ 2472 0.0082\\ 2490 0.0078\\ 2508 0.0075\\ 2526 0.0071\\ 2544 0.0068\\ 2562 0.0064\\ 2580 0.0061\\ 2598 0.0054\\ 2616 0.0051\\ 2634 0.0044\\ 2651 0.0037\\ 2669 0.0040\\ 2687 0.0078\\ 2702 0.0089\\ 2740 0.0088\\ 2778 0.0084\\}\EAc
\pgfplotstableread[row sep=\\]{x y\\ 0 0.0147\\ 41 0.0147\\ 87 0.0149\\ 124 0.0172\\ 146 0.0172\\ 170 0.0172\\ 176 0.0158\\ 188 0.0134\\ 200 0.0127\\ 206 0.0103\\ 214 0.0130\\ 224 0.0141\\ 236 0.0144\\ 248 0.0137\\ 260 0.0127\\ 272 0.0120\\ 284 0.0110\\ 296 0.0103\\ 308 0.0117\\ 320 0.0130\\ 332 0.0141\\ 344 0.0158\\ 356 0.0162\\ 368 0.0158\\ 386 0.0162\\ 405 0.0158\\ 423 0.0158\\ 435 0.0165\\ 447 0.0172\\ 459 0.0172\\ 471 0.0165\\ 483 0.0172\\ 495 0.0165\\ 507 0.0158\\ 519 0.0169\\ 531 0.0179\\ 543 0.0186\\ 555 0.0200\\ 567 0.0193\\ 579 0.0186\\ 591 0.0189\\ 603 0.0203\\ 615 0.0207\\ 627 0.0193\\ 639 0.0186\\ 651 0.0172\\ 663 0.0179\\ 675 0.0186\\ 687 0.0189\\ 699 0.0182\\ 711 0.0186\\ 723 0.0179\\ 735 0.0193\\ 747 0.0200\\ 759 0.0207\\ 771 0.0214\\ 783 0.0241\\ 795 0.0234\\ 808 0.0234\\ 820 0.0238\\ 832 0.0238\\ 844 0.0200\\ 856 0.0186\\ 868 0.0179\\ 880 0.0200\\ 892 0.0193\\ 904 0.0200\\ 916 0.0186\\ 928 0.0179\\ 940 0.0179\\ 952 0.0172\\ 964 0.0179\\ 976 0.0179\\ 988 0.0175\\ 1000 0.0172\\ 1012 0.0175\\ 1024 0.0175\\ 1036 0.0172\\ 1048 0.0186\\ 1060 0.0179\\ 1072 0.0148\\ 1084 0.0144\\ 1096 0.0144\\ 1108 0.0141\\ 1120 0.0151\\ 1150 0.0145\\ 1180 0.0155\\ 1210 0.0140\\ 1250 0.0144\\ 1265 0.0141\\ 1277 0.0137\\ 1290 0.0130\\ 1304 0.0144\\ 1322 0.0137\\ 1340 0.0130\\ 1358 0.0123\\ 1372 0.0127\\ 1385 0.0117\\ 1403 0.0106\\ 1421 0.0103\\ 1439 0.0089\\ 1457 0.0089\\ 1475 0.0110\\ 1493 0.0117\\ 1511 0.0123\\ 1529 0.0130\\ 1547 0.0137\\ 1565 0.0144\\ 1583 0.0137\\ 1601 0.0144\\ 1619 0.0151\\ 1637 0.0155\\ 1654 0.0158\\ 1672 0.0158\\ 1690 0.0155\\ 1708 0.0151\\ 1726 0.0155\\ 1744 0.0162\\ 1762 0.0169\\ 1780 0.0172\\ 1798 0.0182\\ 1811 0.0189\\ 1825 0.0182\\ 1840 0.0158\\ 1857 0.0151\\ 1875 0.0155\\ 1893 0.0169\\ 1911 0.0144\\ 1929 0.0130\\ 1947 0.0134\\ 1965 0.0117\\ 1983 0.0120\\ 2001 0.0127\\ 2019 0.0137\\ 2037 0.0130\\ 2055 0.0123\\ 2073 0.0110\\ 2091 0.0096\\ 2109 0.0099\\ 2127 0.0103\\ 2145 0.0099\\ 2163 0.0099\\ 2181 0.0103\\ 2199 0.0099\\ 2211 0.0061\\ 2229 0.0078\\ 2247 0.0089\\ 2265 0.0092\\ 2283 0.0099\\ 2373 0.0099\\ 2391 0.0092\\ 2409 0.0089\\ 2427 0.0103\\ 2445 0.0110\\ 2463 0.0103\\ 2481 0.0110\\ 2499 0.0110\\ 2517 0.0078\\ 2535 0.0071\\ 2553 0.0068\\ 2571 0.0064\\ 2589 0.0061\\ 2607 0.0051\\ 2625 0.0044\\ 2642 0.0044\\ 2660 0.0040\\ 2673 0.0051\\ 2687 0.0075\\ 2702 0.0085\\ 2730 0.0105\\ 2760 0.0110\\ 2778 0.0136\\}\EAd
\pgfplotstableread[row sep=\\]{x y\\ 0 0.0075\\ 87 0.0075\\ 133 0.0086\\ 146 0.0082\\ 158 0.0079\\ 166 0.0089\\ 176 0.0064\\ 188 0.0067\\ 200 0.0089\\ 212 0.0075\\ 224 0.0068\\ 236 0.0075\\ 248 0.0082\\ 260 0.0079\\ 272 0.0082\\ 284 0.0082\\ 296 0.0079\\ 308 0.0082\\ 320 0.0096\\ 332 0.0099\\ 344 0.0103\\ 356 0.0123\\ 368 0.0120\\ 380 0.0117\\ 392 0.0120\\ 405 0.0123\\ 417 0.0130\\ 429 0.0137\\ 441 0.0144\\ 453 0.0148\\ 465 0.0137\\ 477 0.0137\\ 489 0.0144\\ 501 0.0137\\ 513 0.0130\\ 525 0.0123\\ 537 0.0130\\ 549 0.0137\\ 561 0.0151\\ 573 0.0144\\ 585 0.0155\\ 597 0.0165\\ 609 0.0158\\ 621 0.0151\\ 633 0.0148\\ 645 0.0144\\ 657 0.0148\\ 669 0.0144\\ 681 0.0165\\ 693 0.0172\\ 705 0.0179\\ 717 0.0172\\ 729 0.0179\\ 741 0.0179\\ 753 0.0186\\ 765 0.0200\\ 777 0.0214\\ 789 0.0214\\ 802 0.0227\\ 814 0.0224\\ 826 0.0255\\ 838 0.0252\\ 850 0.0227\\ 862 0.0220\\ 874 0.0217\\ 886 0.0200\\ 898 0.0220\\ 910 0.0214\\ 922 0.0200\\ 934 0.0196\\ 946 0.0186\\ 958 0.0182\\ 970 0.0179\\ 982 0.0172\\ 994 0.0172\\ 1006 0.0165\\ 1018 0.0169\\ 1030 0.0158\\ 1042 0.0144\\ 1054 0.0130\\ 1066 0.0109\\ 1078 0.0103\\ 1090 0.0096\\ 1102 0.0075\\ 1114 0.0064\\ 1120 0.0060\\ 1150 0.0050\\ 1180 0.0055\\ 1210 0.0058\\ 1250 0.0061\\ 1268 0.0060\\ 1286 0.0058\\ 1340 0.0058\\ 1349 0.0069\\ 1358 0.0089\\ 1376 0.0103\\ 1394 0.0106\\ 1412 0.0103\\ 1430 0.0103\\ 1448 0.0099\\ 1466 0.0103\\ 1484 0.0103\\ 1502 0.0106\\ 1520 0.0110\\ 1538 0.0130\\ 1556 0.0137\\ 1574 0.0144\\ 1592 0.0141\\ 1610 0.0144\\ 1628 0.0137\\ 1637 0.0151\\ 1650 0.0130\\ 1663 0.0117\\ 1681 0.0103\\ 1699 0.0099\\ 1717 0.0103\\ 1735 0.0103\\ 1753 0.0106\\ 1771 0.0106\\ 1789 0.0103\\ 1807 0.0099\\ 1825 0.0099\\ 1843 0.0092\\ 1861 0.0089\\ 1879 0.0085\\ 1897 0.0082\\ 1915 0.0078\\ 1933 0.0078\\ 1951 0.0082\\ 1969 0.0078\\ 1987 0.0075\\ 2005 0.0068\\ 2023 0.0061\\ 2041 0.0061\\ 2059 0.0054\\ 2077 0.0047\\ 2095 0.0040\\ 2108 0.0026\\ 2122 0.0044\\ 2140 0.0051\\ 2158 0.0054\\ 2176 0.0061\\ 2212 0.0061\\ 2230 0.0089\\ 2248 0.0099\\ 2302 0.0099\\ 2320 0.0096\\ 2391 0.0096\\ 2409 0.0092\\ 2427 0.0089\\ 2445 0.0082\\ 2463 0.0075\\ 2481 0.0068\\ 2499 0.0068\\ 2517 0.0061\\ 2535 0.0054\\ 2553 0.0047\\ 2571 0.0044\\ 2589 0.0040\\ 2607 0.0037\\ 2625 0.0033\\ 2660 0.0033\\ 2669 0.0037\\ 2678 0.0064\\ 2687 0.0064\\ 2702 0.0058\\ 2740 0.0065\\ 2778 0.0067\\}\EAe
\pgfplotstableread[row sep=\\]{x y\\ 0 0.0059\\ 41 0.0074\\ 87 0.0078\\ 133 0.0081\\ 146 0.0082\\ 158 0.0089\\ 170 0.0099\\ 182 0.0106\\ 194 0.0117\\ 212 0.0117\\ 224 0.0123\\ 236 0.0137\\ 248 0.0141\\ 260 0.0151\\ 272 0.0158\\ 284 0.0172\\ 302 0.0172\\ 314 0.0193\\ 326 0.0200\\ 344 0.0200\\ 362 0.0207\\ 374 0.0217\\ 386 0.0214\\ 398 0.0227\\ 411 0.0241\\ 423 0.0238\\ 435 0.0283\\ 447 0.0318\\ 459 0.0342\\ 471 0.0331\\ 483 0.0321\\ 495 0.0318\\ 507 0.0311\\ 519 0.0304\\ 531 0.0293\\ 543 0.0314\\ 555 0.0338\\ 567 0.0370\\ 579 0.0345\\ 591 0.0331\\ 603 0.0338\\ 609 0.0359\\ 621 0.0335\\ 633 0.0325\\ 651 0.0318\\ 663 0.0311\\ 675 0.0304\\ 687 0.0297\\ 699 0.0300\\ 711 0.0286\\ 723 0.0283\\ 735 0.0262\\ 747 0.0231\\ 759 0.0255\\ 771 0.0248\\ 783 0.0262\\ 795 0.0255\\ 808 0.0259\\ 820 0.0266\\ 832 0.0266\\ 844 0.0241\\ 856 0.0193\\ 868 0.0200\\ 880 0.0196\\ 892 0.0207\\ 904 0.0200\\ 916 0.0196\\ 928 0.0193\\ 940 0.0207\\ 952 0.0227\\ 964 0.0220\\ 976 0.0224\\ 988 0.0238\\ 1000 0.0241\\ 1012 0.0241\\ 1024 0.0245\\ 1036 0.0227\\ 1048 0.0200\\ 1060 0.0179\\ 1072 0.0158\\ 1084 0.0155\\ 1096 0.0155\\ 1108 0.0151\\ 1120 0.0144\\ 1150 0.0120\\ 1180 0.0115\\ 1210 0.0100\\ 1235 0.0095\\ 1250 0.0092\\ 1259 0.0109\\ 1272 0.0117\\ 1283 0.0096\\ 1295 0.0106\\ 1308 0.0137\\ 1322 0.0117\\ 1336 0.0103\\ 1349 0.0117\\ 1358 0.0130\\ 1376 0.0130\\ 1394 0.0117\\ 1412 0.0123\\ 1430 0.0117\\ 1448 0.0120\\ 1466 0.0117\\ 1484 0.0123\\ 1502 0.0120\\ 1520 0.0130\\ 1538 0.0137\\ 1556 0.0130\\ 1574 0.0117\\ 1592 0.0110\\ 1610 0.0110\\ 1628 0.0117\\ 1646 0.0089\\ 1663 0.0082\\ 1681 0.0089\\ 1699 0.0082\\ 1717 0.0085\\ 1735 0.0092\\ 1753 0.0099\\ 1771 0.0117\\ 1789 0.0106\\ 1807 0.0117\\ 1825 0.0117\\ 1840 0.0103\\ 1852 0.0089\\ 1870 0.0096\\ 1888 0.0089\\ 1906 0.0082\\ 1924 0.0085\\ 1942 0.0096\\ 1960 0.0103\\ 1978 0.0106\\ 1996 0.0099\\ 2014 0.0103\\ 2032 0.0117\\ 2050 0.0103\\ 2068 0.0110\\ 2086 0.0096\\ 2104 0.0089\\ 2122 0.0106\\ 2140 0.0103\\ 2158 0.0113\\ 2176 0.0117\\ 2194 0.0130\\ 2212 0.0123\\ 2230 0.0130\\ 2248 0.0158\\ 2266 0.0134\\ 2284 0.0123\\ 2302 0.0127\\ 2320 0.0117\\ 2338 0.0110\\ 2356 0.0106\\ 2373 0.0103\\ 2391 0.0099\\ 2409 0.0103\\ 2427 0.0120\\ 2445 0.0127\\ 2463 0.0130\\ 2481 0.0117\\ 2499 0.0103\\ 2517 0.0096\\ 2535 0.0099\\ 2553 0.0103\\ 2571 0.0099\\ 2589 0.0103\\ 2607 0.0089\\ 2625 0.0103\\ 2642 0.0106\\ 2660 0.0096\\ 2678 0.0092\\ 2702 0.0085\\ 2730 0.0065\\ 2778 0.0070\\}\EAf
\pgfplotstableread[row sep=\\]{x y\\ 0 0.0178\\ 18 0.0233\\ 41 0.0275\\ 64 0.0289\\ 97 0.0306\\ 133 0.0310\\ 146 0.0335\\ 152 0.0366\\ 162 0.0363\\ 170 0.0359\\ 182 0.0366\\ 194 0.0359\\ 200 0.0342\\ 206 0.0311\\ 218 0.0311\\ 230 0.0318\\ 242 0.0325\\ 270 0.0325\\ 275 0.0366\\ 284 0.0415\\ 294 0.0401\\ 302 0.0408\\ 314 0.0429\\ 323 0.0408\\ 332 0.0338\\ 344 0.0325\\ 356 0.0352\\ 368 0.0370\\ 386 0.0380\\ 398 0.0394\\ 411 0.0408\\ 423 0.0436\\ 441 0.0470\\ 453 0.0491\\ 459 0.0463\\ 471 0.0484\\ 483 0.0498\\ 495 0.0512\\ 513 0.0526\\ 525 0.0529\\ 537 0.0512\\ 549 0.0550\\ 558 0.0560\\ 567 0.0557\\ 575 0.0512\\ 585 0.0463\\ 597 0.0460\\ 609 0.0456\\ 627 0.0456\\ 639 0.0453\\ 651 0.0418\\ 663 0.0394\\ 675 0.0349\\ 687 0.0345\\ 699 0.0352\\ 705 0.0338\\ 717 0.0325\\ 729 0.0297\\ 741 0.0283\\ 753 0.0262\\ 765 0.0227\\ 777 0.0214\\ 789 0.0207\\ 802 0.0207\\ 814 0.0196\\ 826 0.0193\\ 838 0.0193\\ 850 0.0165\\ 862 0.0158\\ 880 0.0162\\ 898 0.0158\\ 964 0.0158\\ 982 0.0165\\ 994 0.0155\\ 1006 0.0144\\ 1018 0.0137\\ 1030 0.0123\\ 1042 0.0130\\ 1054 0.0158\\ 1066 0.0158\\ 1078 0.0151\\ 1090 0.0137\\ 1120 0.0137\\ 1150 0.0130\\ 1180 0.0125\\ 1210 0.0150\\ 1235 0.0145\\ 1250 0.0144\\ 1265 0.0155\\ 1277 0.0172\\ 1290 0.0172\\ 1301 0.0158\\ 1313 0.0155\\ 1326 0.0172\\ 1340 0.0172\\ 1349 0.0137\\ 1358 0.0117\\ 1372 0.0123\\ 1385 0.0141\\ 1403 0.0144\\ 1421 0.0148\\ 1439 0.0148\\ 1457 0.0151\\ 1475 0.0148\\ 1493 0.0137\\ 1511 0.0144\\ 1529 0.0155\\ 1547 0.0158\\ 1565 0.0144\\ 1583 0.0137\\ 1601 0.0130\\ 1619 0.0123\\ 1637 0.0117\\ 1654 0.0117\\ 1672 0.0103\\ 1690 0.0096\\ 1708 0.0092\\ 1726 0.0089\\ 1744 0.0096\\ 1762 0.0106\\ 1780 0.0130\\ 1798 0.0172\\ 1811 0.0182\\ 1825 0.0172\\ 1840 0.0179\\ 1852 0.0165\\ 1870 0.0155\\ 1888 0.0172\\ 1906 0.0179\\ 1924 0.0186\\ 1942 0.0193\\ 1960 0.0207\\ 1978 0.0227\\ 1996 0.0273\\ 2014 0.0269\\ 2032 0.0273\\ 2041 0.0275\\ 2055 0.0262\\ 2068 0.0248\\ 2086 0.0255\\ 2098 0.0224\\ 2113 0.0200\\ 2131 0.0221\\ 2149 0.0227\\ 2166 0.0238\\ 2184 0.0227\\ 2202 0.0217\\ 2220 0.0221\\ 2238 0.0207\\ 2256 0.0196\\ 2274 0.0186\\ 2292 0.0172\\ 2310 0.0155\\ 2328 0.0144\\ 2346 0.0155\\ 2364 0.0151\\ 2382 0.0144\\ 2400 0.0130\\ 2418 0.0127\\ 2436 0.0137\\ 2454 0.0144\\ 2472 0.0158\\ 2490 0.0179\\ 2508 0.0214\\ 2526 0.0227\\ 2544 0.0234\\ 2562 0.0248\\ 2580 0.0241\\ 2598 0.0255\\ 2616 0.0248\\ 2634 0.0234\\ 2651 0.0227\\ 2669 0.0248\\ 2687 0.0259\\ 2702 0.0255\\ 2720 0.0280\\ 2745 0.0240\\ 2778 0.0190\\}\EAg

% ---------------- EACMCV DNA-B ----------------
\pgfplotstableread[row sep=\\]{x y\\ 0 0.0064\\ 34 0.0060\\ 67 0.0060\\ 101 0.0055\\ 142 0.0053\\ 169 0.0060\\ 192 0.0067\\ 209 0.0071\\ 226 0.0053\\ 260 0.0039\\ 462 0.0039\\ 496 0.0029\\ 547 0.0029\\ 580 0.0022\\ 614 0.0026\\ 648 0.0033\\ 682 0.0039\\ 715 0.0043\\ 749 0.0043\\ 783 0.0039\\ 817 0.0039\\ 850 0.0036\\ 884 0.0033\\ 918 0.0026\\ 951 0.0019\\ 985 0.0008\\ 1019 0.0003\\ 1070 0.0003\\ 1093 0.0012\\ 1120 0.0019\\ 1171 0.0022\\ 1221 0.0026\\ 1289 0.0027\\ 1356 0.0029\\ 1424 0.0033\\ 1491 0.0033\\ 1559 0.0036\\ 1626 0.0039\\ 1694 0.0039\\ 1761 0.0036\\ 1829 0.0039\\ 1896 0.0039\\ 1964 0.0039\\ 2031 0.0043\\ 2099 0.0039\\ 2166 0.0043\\ 2234 0.0053\\ 2267 0.0057\\ 2301 0.0053\\ 2369 0.0057\\ 2402 0.0053\\ 2436 0.0050\\ 2470 0.0046\\ 2503 0.0050\\ 2537 0.0043\\ 2571 0.0039\\ 2605 0.0039\\ 2638 0.0033\\ 2672 0.0046\\ 2706 0.0060\\ 2733 0.0064\\}\EBa
\pgfplotstableread[row sep=\\]{x y\\ 0 0.0088\\ 24 0.0095\\ 57 0.0109\\ 91 0.0116\\ 125 0.0116\\ 169 0.0130\\ 192 0.0126\\ 209 0.0109\\ 243 0.0102\\ 277 0.0106\\ 310 0.0095\\ 344 0.0102\\ 378 0.0088\\ 412 0.0081\\ 445 0.0074\\ 479 0.0081\\ 513 0.0074\\ 547 0.0081\\ 580 0.0074\\ 614 0.0067\\ 648 0.0067\\ 682 0.0074\\ 715 0.0081\\ 749 0.0102\\ 783 0.0102\\ 817 0.0098\\ 850 0.0088\\ 884 0.0081\\ 918 0.0067\\ 951 0.0067\\ 985 0.0060\\ 1019 0.0053\\ 1053 0.0053\\ 1086 0.0067\\ 1120 0.0067\\ 1154 0.0060\\ 1188 0.0067\\ 1221 0.0081\\ 1255 0.0067\\ 1289 0.0067\\ 1323 0.0060\\ 1356 0.0067\\ 1390 0.0074\\ 1424 0.0067\\ 1458 0.0074\\ 1491 0.0081\\ 1525 0.0081\\ 1559 0.0088\\ 1593 0.0081\\ 1694 0.0081\\ 1727 0.0088\\ 1761 0.0088\\ 1795 0.0095\\ 1829 0.0088\\ 1862 0.0088\\ 1896 0.0095\\ 1930 0.0088\\ 1964 0.0088\\ 1997 0.0095\\ 2031 0.0102\\ 2065 0.0102\\ 2099 0.0109\\ 2132 0.0102\\ 2166 0.0102\\ 2200 0.0109\\ 2234 0.0130\\ 2250 0.0136\\ 2267 0.0143\\ 2301 0.0130\\ 2335 0.0119\\ 2369 0.0119\\ 2402 0.0116\\ 2436 0.0113\\ 2470 0.0116\\ 2503 0.0095\\ 2537 0.0088\\ 2571 0.0074\\ 2605 0.0067\\ 2638 0.0067\\ 2672 0.0074\\ 2706 0.0088\\ 2733 0.0095\\}\EBb
\pgfplotstableread[row sep=\\]{x y\\ 0 0.0095\\ 24 0.0081\\ 47 0.0088\\ 74 0.0116\\ 101 0.0136\\ 125 0.0150\\ 159 0.0164\\ 182 0.0171\\ 209 0.0143\\ 243 0.0116\\ 277 0.0109\\ 310 0.0088\\ 378 0.0088\\ 412 0.0081\\ 445 0.0060\\ 479 0.0053\\ 513 0.0060\\ 547 0.0060\\ 580 0.0053\\ 614 0.0060\\ 648 0.0067\\ 682 0.0067\\ 715 0.0074\\ 749 0.0081\\ 783 0.0074\\ 817 0.0088\\ 850 0.0095\\ 884 0.0088\\ 918 0.0081\\ 951 0.0088\\ 985 0.0102\\ 1019 0.0116\\ 1053 0.0109\\ 1086 0.0102\\ 1120 0.0088\\ 1154 0.0102\\ 1188 0.0106\\ 1221 0.0116\\ 1255 0.0123\\ 1289 0.0109\\ 1323 0.0095\\ 1356 0.0088\\ 1390 0.0074\\ 1424 0.0081\\ 1458 0.0067\\ 1491 0.0060\\ 1525 0.0046\\ 1559 0.0043\\ 1593 0.0039\\ 1626 0.0039\\ 1660 0.0043\\ 1694 0.0043\\ 1727 0.0046\\ 1761 0.0053\\ 1795 0.0057\\ 1829 0.0074\\ 1862 0.0081\\ 1896 0.0088\\ 1930 0.0081\\ 1964 0.0088\\ 1997 0.0088\\ 2031 0.0102\\ 2065 0.0102\\ 2099 0.0116\\ 2132 0.0119\\ 2166 0.0123\\ 2200 0.0123\\ 2234 0.0130\\ 2267 0.0136\\ 2301 0.0143\\ 2335 0.0150\\ 2369 0.0164\\ 2402 0.0164\\ 2419 0.0171\\ 2436 0.0157\\ 2470 0.0143\\ 2503 0.0130\\ 2537 0.0088\\ 2571 0.0060\\ 2605 0.0053\\ 2638 0.0060\\ 2672 0.0074\\ 2706 0.0081\\ 2733 0.0074\\}\EBc
\pgfplotstableread[row sep=\\]{x y\\ 0 0.0157\\ 13 0.0185\\ 34 0.0181\\ 57 0.0157\\ 74 0.0171\\ 91 0.0181\\ 125 0.0178\\ 142 0.0206\\ 169 0.0226\\ 192 0.0230\\ 209 0.0213\\ 236 0.0185\\ 260 0.0171\\ 283 0.0130\\ 310 0.0123\\ 344 0.0130\\ 378 0.0123\\ 412 0.0116\\ 445 0.0109\\ 479 0.0102\\ 513 0.0102\\ 547 0.0109\\ 580 0.0102\\ 614 0.0109\\ 648 0.0116\\ 682 0.0123\\ 715 0.0130\\ 749 0.0116\\ 783 0.0123\\ 817 0.0116\\ 850 0.0109\\ 884 0.0102\\ 918 0.0088\\ 951 0.0116\\ 985 0.0136\\ 1019 0.0143\\ 1053 0.0157\\ 1086 0.0164\\ 1120 0.0157\\ 1154 0.0185\\ 1188 0.0220\\ 1221 0.0233\\ 1255 0.0220\\ 1289 0.0220\\ 1323 0.0206\\ 1356 0.0185\\ 1390 0.0171\\ 1424 0.0157\\ 1458 0.0157\\ 1491 0.0150\\ 1525 0.0130\\ 1559 0.0116\\ 1593 0.0123\\ 1626 0.0116\\ 1660 0.0116\\ 1694 0.0119\\ 1727 0.0123\\ 1761 0.0116\\ 1795 0.0102\\ 1829 0.0088\\ 1862 0.0109\\ 1896 0.0123\\ 1930 0.0130\\ 1964 0.0143\\ 1997 0.0164\\ 2031 0.0171\\ 2065 0.0171\\ 2099 0.0164\\ 2132 0.0171\\ 2166 0.0185\\ 2200 0.0199\\ 2234 0.0192\\ 2267 0.0220\\ 2284 0.0209\\ 2301 0.0192\\ 2335 0.0185\\ 2369 0.0178\\ 2402 0.0181\\ 2436 0.0178\\ 2470 0.0171\\ 2503 0.0157\\ 2537 0.0130\\ 2571 0.0102\\ 2605 0.0088\\ 2638 0.0078\\ 2672 0.0081\\ 2699 0.0130\\ 2723 0.0157\\ 2733 0.0157\\}\EBd
\pgfplotstableread[row sep=\\]{x y\\ 0 0.0088\\ 24 0.0109\\ 47 0.0143\\ 74 0.0164\\ 101 0.0171\\ 125 0.0157\\ 159 0.0171\\ 192 0.0185\\ 216 0.0178\\ 243 0.0164\\ 270 0.0143\\ 294 0.0130\\ 327 0.0116\\ 361 0.0116\\ 395 0.0102\\ 428 0.0109\\ 462 0.0102\\ 496 0.0095\\ 530 0.0116\\ 563 0.0095\\ 597 0.0102\\ 631 0.0102\\ 665 0.0116\\ 698 0.0116\\ 732 0.0102\\ 766 0.0102\\ 800 0.0088\\ 833 0.0102\\ 867 0.0098\\ 901 0.0088\\ 935 0.0081\\ 968 0.0116\\ 1002 0.0130\\ 1036 0.0143\\ 1070 0.0143\\ 1103 0.0157\\ 1137 0.0171\\ 1171 0.0185\\ 1205 0.0192\\ 1238 0.0185\\ 1272 0.0171\\ 1306 0.0157\\ 1339 0.0143\\ 1373 0.0116\\ 1407 0.0109\\ 1441 0.0130\\ 1474 0.0116\\ 1508 0.0109\\ 1542 0.0102\\ 1576 0.0130\\ 1609 0.0143\\ 1643 0.0136\\ 1677 0.0143\\ 1711 0.0150\\ 1744 0.0157\\ 1778 0.0150\\ 1812 0.0157\\ 1846 0.0154\\ 1879 0.0143\\ 1913 0.0150\\ 1947 0.0143\\ 1981 0.0157\\ 2014 0.0171\\ 2048 0.0199\\ 2082 0.0196\\ 2116 0.0192\\ 2149 0.0185\\ 2183 0.0199\\ 2217 0.0206\\ 2250 0.0192\\ 2284 0.0185\\ 2318 0.0178\\ 2352 0.0171\\ 2369 0.0130\\ 2402 0.0119\\ 2436 0.0116\\ 2470 0.0123\\ 2503 0.0102\\ 2537 0.0102\\ 2571 0.0081\\ 2605 0.0074\\ 2638 0.0060\\ 2672 0.0067\\ 2699 0.0074\\ 2723 0.0088\\ 2733 0.0091\\}\EBe
\pgfplotstableread[row sep=\\]{x y\\ 0 0.0116\\ 24 0.0130\\ 47 0.0136\\ 74 0.0157\\ 108 0.0164\\ 142 0.0185\\ 169 0.0206\\ 192 0.0220\\ 216 0.0199\\ 243 0.0185\\ 273 0.0164\\ 294 0.0143\\ 317 0.0130\\ 344 0.0116\\ 378 0.0123\\ 412 0.0109\\ 445 0.0102\\ 479 0.0116\\ 513 0.0102\\ 547 0.0116\\ 580 0.0130\\ 614 0.0116\\ 648 0.0130\\ 682 0.0157\\ 715 0.0136\\ 749 0.0136\\ 783 0.0123\\ 817 0.0116\\ 850 0.0116\\ 884 0.0109\\ 918 0.0088\\ 951 0.0116\\ 985 0.0136\\ 1019 0.0157\\ 1053 0.0150\\ 1086 0.0164\\ 1120 0.0171\\ 1154 0.0178\\ 1188 0.0185\\ 1221 0.0199\\ 1255 0.0192\\ 1289 0.0171\\ 1323 0.0143\\ 1356 0.0157\\ 1390 0.0143\\ 1424 0.0143\\ 1458 0.0136\\ 1491 0.0123\\ 1525 0.0116\\ 1559 0.0102\\ 1593 0.0143\\ 1626 0.0164\\ 1660 0.0130\\ 1694 0.0116\\ 1727 0.0130\\ 1761 0.0116\\ 1795 0.0102\\ 1829 0.0109\\ 1862 0.0081\\ 1896 0.0078\\ 1930 0.0102\\ 1964 0.0109\\ 1997 0.0130\\ 2031 0.0136\\ 2065 0.0157\\ 2099 0.0164\\ 2132 0.0157\\ 2166 0.0171\\ 2200 0.0171\\ 2234 0.0178\\ 2267 0.0171\\ 2301 0.0157\\ 2335 0.0171\\ 2369 0.0164\\ 2402 0.0171\\ 2436 0.0178\\ 2470 0.0199\\ 2503 0.0171\\ 2537 0.0185\\ 2571 0.0164\\ 2605 0.0171\\ 2638 0.0150\\ 2672 0.0123\\ 2699 0.0136\\ 2723 0.0130\\ 2733 0.0136\\}\EBf
\pgfplotstableread[row sep=\\]{x y\\ 0 0.0033\\ 24 0.0039\\ 57 0.0060\\ 91 0.0067\\ 125 0.0074\\ 159 0.0088\\ 192 0.0102\\ 226 0.0116\\ 260 0.0116\\ 294 0.0109\\ 327 0.0116\\ 361 0.0109\\ 395 0.0088\\ 428 0.0081\\ 462 0.0102\\ 496 0.0088\\ 530 0.0081\\ 563 0.0067\\ 597 0.0081\\ 631 0.0067\\ 665 0.0060\\ 698 0.0074\\ 732 0.0060\\ 766 0.0067\\ 800 0.0067\\ 833 0.0053\\ 867 0.0046\\ 901 0.0053\\ 935 0.0043\\ 968 0.0039\\ 1002 0.0046\\ 1036 0.0050\\ 1070 0.0053\\ 1103 0.0060\\ 1137 0.0067\\ 1171 0.0074\\ 1205 0.0088\\ 1238 0.0091\\ 1272 0.0081\\ 1306 0.0060\\ 1339 0.0060\\ 1373 0.0053\\ 1407 0.0046\\ 1441 0.0060\\ 1474 0.0067\\ 1508 0.0074\\ 1542 0.0088\\ 1576 0.0081\\ 1609 0.0088\\ 1643 0.0091\\ 1677 0.0102\\ 1711 0.0116\\ 1744 0.0119\\ 1778 0.0130\\ 1812 0.0136\\ 1846 0.0136\\ 1879 0.0143\\ 1896 0.0164\\ 1913 0.0199\\ 1937 0.0247\\ 1964 0.0303\\ 1991 0.0337\\ 2014 0.0351\\ 2048 0.0348\\ 2072 0.0344\\ 2092 0.0334\\ 2116 0.0351\\ 2139 0.0386\\ 2166 0.0413\\ 2193 0.0434\\ 2217 0.0458\\ 2240 0.0455\\ 2261 0.0441\\ 2274 0.0413\\ 2294 0.0386\\ 2308 0.0351\\ 2335 0.0344\\ 2362 0.0348\\ 2385 0.0337\\ 2409 0.0344\\ 2429 0.0334\\ 2453 0.0316\\ 2470 0.0275\\ 2487 0.0233\\ 2503 0.0185\\ 2520 0.0130\\ 2537 0.0088\\ 2571 0.0060\\ 2605 0.0046\\ 2638 0.0039\\ 2672 0.0039\\ 2706 0.0036\\ 2733 0.0033\\}\EBg

\pgfplotsset{
  panel/.style={
    scale only axis,
    axis x line*=bottom,
    axis y line*=left,
    axis line style={black!85, line width=0.8bp},
    tick style={black!85, line width=0.8bp},
    major tick length=3.5bp,
    tick align=outside,
    ticklabel style={font=\tickfont},
    xticklabel style={yshift=-3.5bp},
    yticklabel style={xshift=-2.5bp},
    scaled ticks=false,
    ymin=0,
    clip=false,
    every axis plot/.append style={line width=1.7bp, line join=round, mark=none},
  },
  ab/.style={panel, height=277.9bp, ymax=0.0355, ytick={0,0.005,0.01,0.015,0.02,0.025,0.03,0.035}},
  abl/.style={ab, yticklabels={0.000,0.005,0.010,0.015,0.020,0.025,0.030,0.035}},
  abr/.style={ab, yticklabels={}},
  cd/.style={panel, height=286.2bp, ymax=0.0595, ytick={0,0.01,0.02,0.03,0.04,0.05}},
  cdl/.style={cd, yticklabels={0.00,0.01,0.02,0.03,0.04,0.05}},
  cdr/.style={cd, yticklabels={}},
  fullx/.style={xtick={0,500,1000,1500,2000,2500}, xticklabels={0,500,1000,1500,2000,2500}},
  avx/.style={xtick={200,400,600,800,1000}, xticklabels={200,400,600,800,1000}},
  acx/.style={xtick={1200,1500,1800,2100,2400,2700}, xticklabels={1200,1500,1800,2100,2400,2700}},
}
\tikzset{genearrow/.style={black, line width=1bp, -{Triangle[length=10bp,width=6bp]}}}
\newcommand\gene[4]{\draw[genearrow] ([yshift=-#3bp]axis cs:#1,0) -- ([yshift=-#3bp]axis cs:#2,0) node[midway, yshift=-8.5bp, font=\genefont, text=black]{#4};}
\newcommand\motif[3]{\fill[motifc] (axis cs:#1,0) rectangle (axis cs:#2,#3);}
\newcommand\mlab[3]{\node[rotate=33, font=\motiffont, inner sep=0pt] at (axis cs:#1,#2) {#3};}

\begin{document}
\begin{tikzpicture}
\useasboundingbox (0,0) rectangle (749bp,1764bp);

% ===== Panel A left: ACMV DNA-A =====
\begin{axis}[abl, fullx, at={(140bp,1390bp)}, anchor=south west, width=290bp, xmin=-61, xmax=2772]
\addplot[cPa] table {\AAa};
\addplot[cPb] table {\AAb};
\addplot[cPc] table {\AAc};
\addplot[cPd] table {\AAd};
\addplot[cPe] table {\AAe};
\addplot[cPf] table {\AAf};
\addplot[cPg] table {\AAg};
\gene{298}{1080}{23.5}{AV1}
\gene{2600}{1515}{23.5}{AC1}
\gene{1000}{275}{39}{AC5}
\gene{1618}{1200}{39}{AC2}
\gene{2445}{2140}{39}{AC4}
\gene{138}{480}{54.5}{AV2}
\gene{1470}{1061}{54.5}{AC3}
\end{axis}

% ===== Panel A right: ACMV DNA-B =====
\begin{axis}[abr, fullx, at={(444bp,1390bp)}, anchor=south west, width=289bp, xmin=-134, xmax=2858]
\addplot[cPa] table {\ABa};
\addplot[cPb] table {\ABb};
\addplot[cPc] table {\ABc};
\addplot[cPd] table {\ABd};
\addplot[cPe] table {\ABe};
\addplot[cPf] table {\ABf};
\addplot[cPg] table {\ABg};
\gene{428}{1188}{23.5}{BV1}
\gene{2103}{1201}{23.5}{BC1}
\end{axis}

% ===== Panel B left: ACMV AV1 =====
\begin{axis}[abl, avx, at={(140bp,1000bp)}, anchor=south west, width=290bp, xmin=62, xmax=1135]
\addplot[cPa, restrict x to domain=110:1090] table {\AAa};
\addplot[cPb, restrict x to domain=110:1090] table {\AAb};
\addplot[cPc, restrict x to domain=110:1090] table {\AAc};
\addplot[cPd, restrict x to domain=110:1090] table {\AAd};
\addplot[cPe, restrict x to domain=110:1090] table {\AAe};
\addplot[cPf, restrict x to domain=110:1090] table {\AAf};
\addplot[cPg, restrict x to domain=110:1090] table {\AAg};
\gene{298}{1080}{23.5}{AV1}
\gene{1000}{275}{39}{AC5}
\gene{138}{480}{54.5}{AV2}
\end{axis}

% ===== Panel B right: ACMV AC1 =====
\begin{axis}[abr, acx, at={(444bp,1000bp)}, anchor=south west, width=289bp, xmin=1147, xmax=2704]
\motif{1692}{1708}{0.030}
\motif{1750}{1804}{0.030}
\motif{1826}{1840}{0.030}
\motif{1923}{1932}{0.030}
\motif{2289}{2303}{0.030}
\motif{2350}{2372}{0.030}
\motif{2422}{2440}{0.030}
\motif{2552}{2568}{0.030}
\addplot[cPa, restrict x to domain=1215:2640] table {\AAa};
\addplot[cPb, restrict x to domain=1215:2640] table {\AAb};
\addplot[cPc, restrict x to domain=1215:2640] table {\AAc};
\addplot[cPd, restrict x to domain=1215:2640] table {\AAd};
\addplot[cPe, restrict x to domain=1215:2640] table {\AAe};
\addplot[cPf, restrict x to domain=1215:2640] table {\AAf};
\addplot[cPg, restrict x to domain=1215:2640] table {\AAg};
\mlab{1682}{0.0317}{REP C}
\mlab{1811}{0.0318}{REP B}
\mlab{1935}{0.0322}{Walker B}
\mlab{2038}{0.0324}{Walker A}
\mlab{2275}{0.0319}{Motif 3}
\mlab{2383}{0.0311}{GRS}
\mlab{2507}{0.0319}{Motif 2}
\mlab{2642}{0.0318}{Motif 1}
\gene{2600}{1515}{23.5}{AC1}
\gene{1618}{1200}{39}{AC2}
\gene{2445}{2140}{39}{AC4}
\end{axis}

% ===== Panel C left: EACMCV DNA-A =====
\begin{axis}[cdl, fullx, at={(134.6bp,518.3bp)}, anchor=south west, width=295.4bp, xmin=-49, xmax=2782]
\addplot[cPa] table {\EAa};
\addplot[cPb] table {\EAb};
\addplot[cPc] table {\EAc};
\addplot[cPd] table {\EAd};
\addplot[cPe] table {\EAe};
\addplot[cPf] table {\EAf};
\addplot[cPg] table {\EAg};
\gene{336}{1117}{23.5}{AV1}
\gene{2640}{1585}{23.5}{AC1}
\gene{175}{528}{39}{AV2}
\gene{1652}{1240}{39}{AC2}
\gene{2480}{2246}{39}{AC4}
\gene{1511}{1098}{54.5}{AC3}
\end{axis}

% ===== Panel C right: EACMCV DNA-B =====
\begin{axis}[cdr, fullx, at={(446.5bp,518.3bp)}, anchor=south west, width=295.5bp, xmin=-130, xmax=2862]
\addplot[cPa] table {\EBa};
\addplot[cPb] table {\EBb};
\addplot[cPc] table {\EBc};
\addplot[cPd] table {\EBd};
\addplot[cPe] table {\EBe};
\addplot[cPf] table {\EBf};
\addplot[cPg] table {\EBg};
\gene{314}{1086}{23.5}{BV1}
\gene{2137}{1197}{23.5}{BC1}
\end{axis}

% ===== Panel D left: EACMCV AV1 =====
\begin{axis}[cdl, avx, at={(134.6bp,118bp)}, anchor=south west, width=295.4bp, xmin=98, xmax=1168]
\addplot[cPa, restrict x to domain=140:1125] table {\EAa};
\addplot[cPb, restrict x to domain=140:1125] table {\EAb};
\addplot[cPc, restrict x to domain=140:1125] table {\EAc};
\addplot[cPd, restrict x to domain=140:1125] table {\EAd};
\addplot[cPe, restrict x to domain=140:1125] table {\EAe};
\addplot[cPf, restrict x to domain=140:1125] table {\EAf};
\addplot[cPg, restrict x to domain=140:1125] table {\EAg};
\gene{336}{1117}{23.5}{AV1}
\gene{175}{528}{39}{AV2}
\end{axis}

% ===== Panel D right: EACMCV AC1 =====
\begin{axis}[cdr, acx, at={(446.5bp,118bp)}, anchor=south west, width=295.5bp, xmin=1178, xmax=2774]
\motif{1730}{1746}{0.040}
\motif{1786}{1838}{0.040}
\motif{1861}{1874}{0.040}
\motif{1960}{1967}{0.040}
\motif{2323}{2337}{0.040}
\motif{2391}{2414}{0.040}
\motif{2456}{2474}{0.040}
\motif{2585}{2601}{0.040}
\addplot[cPa, restrict x to domain=1245:2705] table {\EAa};
\addplot[cPb, restrict x to domain=1245:2705] table {\EAb};
\addplot[cPc, restrict x to domain=1245:2705] table {\EAc};
\addplot[cPd, restrict x to domain=1245:2705] table {\EAd};
\addplot[cPe, restrict x to domain=1245:2705] table {\EAe};
\addplot[cPf, restrict x to domain=1245:2705] table {\EAf};
\addplot[cPg, restrict x to domain=1245:2705] table {\EAg};
\mlab{1714}{0.0424}{REP C}
\mlab{1847}{0.0425}{REP B}
\mlab{1970}{0.0434}{Walker B}
\mlab{2076}{0.0434}{Walker A}
\mlab{2307}{0.0425}{Motif 3}
\mlab{2407}{0.0415}{GRS}
\mlab{2543}{0.0425}{Motif 2}
\mlab{2666}{0.0424}{Motif 1}
\gene{2640}{1585}{23.5}{AC1}
\gene{1652}{1240}{39}{AC2}
\gene{2480}{2246}{39}{AC4}
\end{axis}

% ===== Texts =====
\node[font=\letterfont] at (22bp,1740bp) {A};
\node[font=\letterfont] at (22bp,1294bp) {B};
\node[font=\letterfont] at (22bp,882bp) {C};
\node[font=\letterfont] at (22bp,434bp) {D};
\node[font=\bigtitlefont] at (429bp,1746bp) {ACMV};
\node[font=\bigtitlefont] at (430bp,886bp) {EACMCV};

\node[font=\titlefont] at (285bp,1683bp) {DNA-A};
\node[font=\titlefont] at (588.5bp,1683bp) {DNA-B};
\node[font=\titlefont] at (285bp,1292bp) {AV1};
\node[font=\titlefont] at (588.5bp,1292bp) {AC1};
\node[font=\titlefont] at (282.3bp,817.5bp) {DNA-A};
\node[font=\titlefont] at (594.3bp,817.5bp) {DNA-B};
\node[font=\titlefont] at (282.3bp,418.5bp) {AV1};
\node[font=\titlefont] at (594.3bp,418.5bp) {AC1};

\node[font=\pifont] at (80.6bp,1540bp) {π};
\node[font=\pifont] at (80.6bp,1149bp) {π};
\node[font=\pifont] at (80.6bp,672.3bp) {π};
\node[font=\pifont] at (80.6bp,271.3bp) {π};

\node[font=\xlabfont] at (285bp,924bp) {Genome Position};
\node[font=\xlabfont] at (588.5bp,924bp) {Genome Position};
\node[font=\xlabfont] at (282.3bp,53.3bp) {Genome Position};
\node[font=\xlabfont] at (594.3bp,53.3bp) {Genome Position};

\node[font=\legfont, text=lPa] at (328bp,11.3bp) {P1};
\node[font=\legfont, text=lPb] at (369bp,11.3bp) {P2};
\node[font=\legfont, text=lPc] at (412bp,11.3bp) {P3};
\node[font=\legfont, text=lPd] at (452bp,11.3bp) {P4};
\node[font=\legfont, text=lPe] at (495bp,11.3bp) {P5};
\node[font=\legfont, text=lPf] at (536bp,11.3bp) {P6};
\node[font=\legfont, text=lPg] at (578bp,11.3bp) {P7};
\end{tikzpicture}
\end{document}
